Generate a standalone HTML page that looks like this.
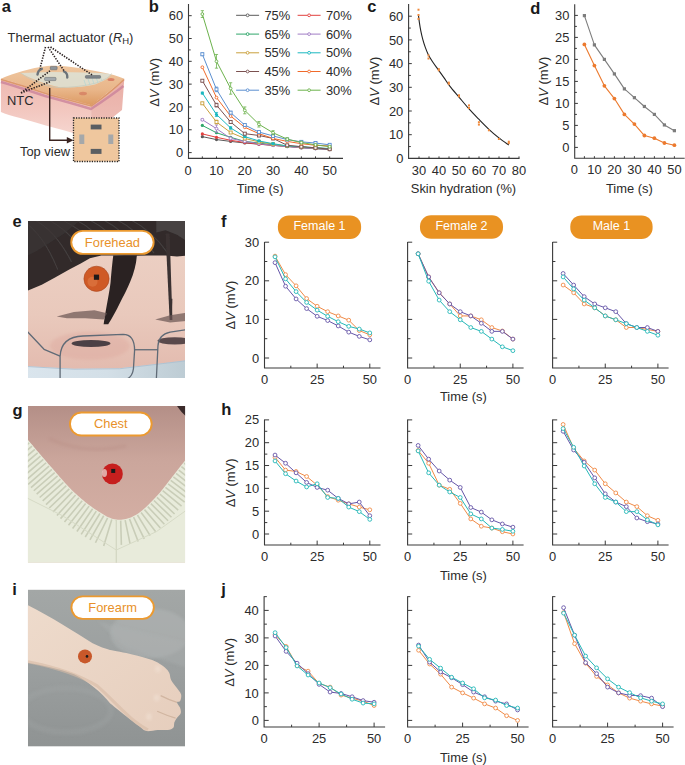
<!DOCTYPE html><html><head><meta charset="utf-8"><style>html,body{margin:0;padding:0;background:#fff;width:685px;height:765px;overflow:hidden}svg{display:block;font-family:"Liberation Sans",sans-serif}</style></head><body><svg width="685" height="765" viewBox="0 0 685 765" font-family="&quot;Liberation Sans&quot;, sans-serif">
<rect width="685" height="765" fill="#fff"/>
<defs><linearGradient id="topg" x1="0" y1="0" x2="0" y2="1"><stop offset="0" stop-color="#efc7a0"/><stop offset="0.6" stop-color="#e9b68a"/><stop offset="1" stop-color="#dc9a62"/></linearGradient><linearGradient id="frontg" x1="0" y1="0" x2="0" y2="1"><stop offset="0" stop-color="#eeb9b2"/><stop offset="0.5" stop-color="#f2c6be"/><stop offset="1" stop-color="#f6d8d2"/></linearGradient><linearGradient id="rightg" x1="0" y1="0" x2="0" y2="1"><stop offset="0" stop-color="#e9aea6"/><stop offset="1" stop-color="#efc2ba"/></linearGradient><filter id="bla" x="-10%" y="-10%" width="120%" height="120%"><feGaussianBlur stdDeviation="0.5"/></filter></defs>
<path d="M0.9 78.7 C12 81 22 84 30 86 C45 92 60 96 75 100 C83 102 88 104 91.1 105.3 L91.1 138 C70 132 40 124 20 118 C12 116 5 114 0.9 112 Z" fill="url(#frontg)"/>
<path d="M91.1 105.3 C100 99 110 91 124.3 78.7 L122 110 C112 118 100 128 91.1 138 Z" fill="url(#rightg)"/>
<path d="M0.9 78.7 C15 73 30 68 47 66 C60 65 75 67 90 70 C105 73 116 75 124.3 78.7 C110 91 100 99 91.1 105.3 C80 102 65 98 50 94 C35 89 15 82 0.9 78.7 Z" fill="url(#topg)"/>
<path d="M0.9 82 C15 86 30 91 45 96 C60 100 78 105 91.1 109 C100 103 112 95 123.5 86" fill="none" stroke="#c9809a" stroke-width="2.4" opacity="0.75" filter="url(#bla)"/>
<path d="M0.9 79.5 C15 83 35 90 50 95 C65 99 80 103 91.1 106 C100 100 112 91 124 79.5" fill="none" stroke="#d8915a" stroke-width="1.6" opacity="0.8" filter="url(#bla)"/>
<ellipse cx="83" cy="93.5" rx="4" ry="1.8" fill="#cf6a55" opacity="0.55" filter="url(#bla)"/>
<ellipse cx="111" cy="79.5" rx="3.5" ry="1.6" fill="#cf5a4a" opacity="0.6" filter="url(#bla)"/>
<path d="M20.5 73 C30 72.5 40 72.2 50 72 C65 72 80 72.3 95 72.8 C103 73.2 108 73.5 111 74.5 C109 78 103 81.5 95 84.4 C85 87 72 87.8 60 87.3 C47 85 33 79.5 20.5 73 Z" fill="#dde2d6" opacity="0.85"/>
<path d="M20.5 72.8 C32 81 45 86.5 58 87.5 C72 87.5 85 86 96 83 C104 80 110 77 111.5 73.5" fill="none" stroke="#c4cabd" stroke-width="0.7"/>
<path d="M84 80 L86 86 M88 79 L90 85 M92 78 L94 84 M96 77 L98 83 M100 76 L102 81" stroke="#b9d6d0" stroke-width="0.8"/>
<rect x="50.3" y="66.4" width="6.8" height="3.4" rx="0.8" fill="#8d949a" stroke="#5c6268" stroke-width="0.5"/>
<rect x="44.6" y="77.4" width="11.4" height="3.2" rx="0.8" fill="#a2a8ac" stroke="#5c6268" stroke-width="0.5"/>
<rect x="85.4" y="75.5" width="15.2" height="2.8" rx="0.8" fill="#7d8388" stroke="#5c6268" stroke-width="0.5"/>
<path d="M37.5 74.5 C38 71 39.5 69.5 41.8 68.8" stroke="#6c7379" stroke-width="2.4" fill="none" stroke-linecap="round"/>
<path d="M64 71.5 C66.5 72.5 67.5 74.5 67.3 77.5" stroke="#6c7379" stroke-width="2.4" fill="none" stroke-linecap="round"/>
<path d="M45.5 47 L40 68.5 M48 47 L64.5 71.5 M50.5 47 L93 75.5" stroke="#2a2020" stroke-width="1.6" stroke-dasharray="1.4 1.3" fill="none"/>
<path d="M21 93 L51 70 M21 93 L50.3 81.6" stroke="#2a2020" stroke-width="1.6" stroke-dasharray="1.4 1.3" fill="none"/>
<text x="7.6" y="42.2" font-size="12.9" fill="#2b2b2b">Thermal actuator (<tspan font-style="italic">R</tspan><tspan font-size="9.5" dy="2.2">H</tspan><tspan dy="-2.2">)</tspan></text>
<text x="7" y="105" font-size="12.9" text-anchor="start" font-weight="normal" fill="#2b2b2b" >NTC</text>
<text x="20" y="155.5" font-size="12.9" text-anchor="start" font-weight="normal" fill="#2b2b2b" >Top view</text>
<path d="M49.7 88 V140.3 H68" stroke="#3a2420" stroke-width="1.4" fill="none"/>
<path d="M73.5 140.3 L66.8 137 L66.8 143.6 Z" fill="#3a2420"/>
<rect x="73.5" y="118" width="45.5" height="43.5" fill="#efc79e" stroke="#222" stroke-width="1.3" stroke-dasharray="1.2 1.3"/>
<rect x="90.7" y="124.6" width="10.8" height="4.8" fill="#5a5e62"/>
<rect x="90.7" y="148.9" width="10.8" height="5" fill="#5a5e62"/>
<rect x="79.3" y="134.5" width="5" height="9.5" fill="#a5a8aa"/>
<rect x="108.3" y="134.5" width="5" height="9.5" fill="#a5a8aa"/>
<path d="M188.5 4V158.4H343" fill="none" stroke="#3a3a3a" stroke-width="1.1"/>
<path d="M188.5 152.6h3.2M188.5 141.19h2.2M188.5 129.78h3.2M188.5 118.37h2.2M188.5 106.96h3.2M188.5 95.55h2.2M188.5 84.14h3.2M188.5 72.73h2.2M188.5 61.32h3.2M188.5 49.91h2.2M188.5 38.5h3.2M188.5 27.09h2.2M188.5 15.68h3.2M202.34 158.4v-2M216.49 158.4v-2M230.63 158.4v-2M244.78 158.4v-2M258.93 158.4v-2M273.07 158.4v-2M287.21 158.4v-2M301.36 158.4v-2M315.5 158.4v-2M329.65 158.4v-2" stroke="#3a3a3a" stroke-width="1"/>
<text x="183.2" y="157.22" font-size="12.9" text-anchor="end" font-weight="normal" fill="#2b2b2b" >0</text>
<text x="183.2" y="134.4" font-size="12.9" text-anchor="end" font-weight="normal" fill="#2b2b2b" >10</text>
<text x="183.2" y="111.58" font-size="12.9" text-anchor="end" font-weight="normal" fill="#2b2b2b" >20</text>
<text x="183.2" y="88.76" font-size="12.9" text-anchor="end" font-weight="normal" fill="#2b2b2b" >30</text>
<text x="183.2" y="65.94" font-size="12.9" text-anchor="end" font-weight="normal" fill="#2b2b2b" >40</text>
<text x="183.2" y="43.12" font-size="12.9" text-anchor="end" font-weight="normal" fill="#2b2b2b" >50</text>
<text x="183.2" y="20.3" font-size="12.9" text-anchor="end" font-weight="normal" fill="#2b2b2b" >60</text>
<text x="188.2" y="174.6" font-size="12.9" text-anchor="middle" font-weight="normal" fill="#2b2b2b" >0</text>
<text x="216.49" y="174.6" font-size="12.9" text-anchor="middle" font-weight="normal" fill="#2b2b2b" >10</text>
<text x="244.78" y="174.6" font-size="12.9" text-anchor="middle" font-weight="normal" fill="#2b2b2b" >20</text>
<text x="273.07" y="174.6" font-size="12.9" text-anchor="middle" font-weight="normal" fill="#2b2b2b" >30</text>
<text x="301.36" y="174.6" font-size="12.9" text-anchor="middle" font-weight="normal" fill="#2b2b2b" >40</text>
<text x="329.65" y="174.6" font-size="12.9" text-anchor="middle" font-weight="normal" fill="#2b2b2b" >50</text>
<text transform="translate(158.6,82.3) rotate(-90)" x="0" y="0" font-size="12.9" text-anchor="middle" fill="#2b2b2b">&#916;<tspan font-style="italic">V</tspan> (mV)</text>
<text x="260.2" y="192.9" font-size="12.9" text-anchor="middle" font-weight="normal" fill="#2b2b2b" >Time (s)</text>
<polyline points="202.34,136.63 216.49,139.59 230.63,141.42 244.78,143.02 258.93,144.16 273.07,145.3 287.21,146.44 301.36,147.81 315.5,148.72 329.65,149.63" fill="none" stroke="#5a5a5a" stroke-width="1.0" stroke-linejoin="round"/>
<circle cx="202.34" cy="136.63" r="1.6" fill="#5a5a5a"/>
<circle cx="216.49" cy="139.59" r="1.6" fill="#5a5a5a"/>
<circle cx="230.63" cy="141.42" r="1.6" fill="#5a5a5a"/>
<circle cx="244.78" cy="143.02" r="1.6" fill="#5a5a5a"/>
<circle cx="258.93" cy="144.16" r="1.6" fill="#5a5a5a"/>
<circle cx="273.07" cy="145.3" r="1.6" fill="#5a5a5a"/>
<circle cx="287.21" cy="146.44" r="1.6" fill="#5a5a5a"/>
<circle cx="301.36" cy="147.81" r="1.6" fill="#5a5a5a"/>
<circle cx="315.5" cy="148.72" r="1.6" fill="#5a5a5a"/>
<circle cx="329.65" cy="149.63" r="1.6" fill="#5a5a5a"/>
<polyline points="202.34,133.89 216.49,137.31 230.63,140.28 244.78,142.56 258.93,144.16 273.07,145.3 287.21,146.44 301.36,147.12 315.5,148.04 329.65,148.72" fill="none" stroke="#e2413f" stroke-width="1.0" stroke-linejoin="round"/>
<circle cx="202.34" cy="133.89" r="1.6" fill="#e2413f"/>
<circle cx="216.49" cy="137.31" r="1.6" fill="#e2413f"/>
<circle cx="230.63" cy="140.28" r="1.6" fill="#e2413f"/>
<circle cx="244.78" cy="142.56" r="1.6" fill="#e2413f"/>
<circle cx="258.93" cy="144.16" r="1.6" fill="#e2413f"/>
<circle cx="273.07" cy="145.3" r="1.6" fill="#e2413f"/>
<circle cx="287.21" cy="146.44" r="1.6" fill="#e2413f"/>
<circle cx="301.36" cy="147.12" r="1.6" fill="#e2413f"/>
<circle cx="315.5" cy="148.04" r="1.6" fill="#e2413f"/>
<circle cx="329.65" cy="148.72" r="1.6" fill="#e2413f"/>
<polyline points="202.34,125.44 216.49,132.75 230.63,137.31 244.78,141.42 258.93,143.02 273.07,144.84 287.21,145.98 301.36,147.12 315.5,148.04 329.65,148.72" fill="none" stroke="#2fa66a" stroke-width="1.0" stroke-linejoin="round"/>
<circle cx="202.34" cy="125.44" r="1.6" fill="#2fa66a"/>
<circle cx="216.49" cy="132.75" r="1.6" fill="#2fa66a"/>
<circle cx="230.63" cy="137.31" r="1.6" fill="#2fa66a"/>
<circle cx="244.78" cy="141.42" r="1.6" fill="#2fa66a"/>
<circle cx="258.93" cy="143.02" r="1.6" fill="#2fa66a"/>
<circle cx="273.07" cy="144.84" r="1.6" fill="#2fa66a"/>
<circle cx="287.21" cy="145.98" r="1.6" fill="#2fa66a"/>
<circle cx="301.36" cy="147.12" r="1.6" fill="#2fa66a"/>
<circle cx="315.5" cy="148.04" r="1.6" fill="#2fa66a"/>
<circle cx="329.65" cy="148.72" r="1.6" fill="#2fa66a"/>
<polyline points="202.34,119.74 216.49,128.64 230.63,138.45 244.78,141.42 258.93,143.7 273.07,145.3 287.21,146.44 301.36,147.81 315.5,148.49 329.65,149.18" fill="none" stroke="#a07cc4" stroke-width="1.0" stroke-linejoin="round"/>
<path d="M202.34 118.83V120.65M200.75 118.83h3.2M200.75 120.65h3.2M216.49 124.99V132.29M214.89 124.99h3.2M214.89 132.29h3.2M230.63 137.08V139.82M229.03 137.08h3.2M229.03 139.82h3.2M244.78 140.73V142.1M243.18 140.73h3.2M243.18 142.1h3.2M258.93 143.02V144.38M257.32 143.02h3.2M257.32 144.38h3.2M273.07 144.61V145.98M271.47 144.61h3.2M271.47 145.98h3.2M287.21 145.75V147.12M285.61 145.75h3.2M285.61 147.12h3.2M301.36 147.12V148.49M299.76 147.12h3.2M299.76 148.49h3.2M315.5 147.81V149.18M313.9 147.81h3.2M313.9 149.18h3.2M329.65 148.49V149.86M328.05 148.49h3.2M328.05 149.86h3.2" stroke="#a07cc4" stroke-width="0.8" fill="none"/>
<circle cx="202.34" cy="119.74" r="1.4" fill="#fff" stroke="#a07cc4" stroke-width="0.9"/>
<circle cx="216.49" cy="128.64" r="1.4" fill="#fff" stroke="#a07cc4" stroke-width="0.9"/>
<circle cx="230.63" cy="138.45" r="1.4" fill="#fff" stroke="#a07cc4" stroke-width="0.9"/>
<circle cx="244.78" cy="141.42" r="1.4" fill="#fff" stroke="#a07cc4" stroke-width="0.9"/>
<circle cx="258.93" cy="143.7" r="1.4" fill="#fff" stroke="#a07cc4" stroke-width="0.9"/>
<circle cx="273.07" cy="145.3" r="1.4" fill="#fff" stroke="#a07cc4" stroke-width="0.9"/>
<circle cx="287.21" cy="146.44" r="1.4" fill="#fff" stroke="#a07cc4" stroke-width="0.9"/>
<circle cx="301.36" cy="147.81" r="1.4" fill="#fff" stroke="#a07cc4" stroke-width="0.9"/>
<circle cx="315.5" cy="148.49" r="1.4" fill="#fff" stroke="#a07cc4" stroke-width="0.9"/>
<circle cx="329.65" cy="149.18" r="1.4" fill="#fff" stroke="#a07cc4" stroke-width="0.9"/>
<polyline points="202.34,103.31 216.49,122.02 230.63,132.52 244.78,138.45 258.93,141.87 273.07,144.16 287.21,145.98 301.36,147.12 315.5,148.04 329.65,148.72" fill="none" stroke="#c9a03c" stroke-width="1.0" stroke-linejoin="round"/>
<path d="M202.34 102.4V104.22M200.75 102.4h3.2M200.75 104.22h3.2M216.49 120.2V123.85M214.89 120.2h3.2M214.89 123.85h3.2M230.63 131.61V133.43M229.03 131.61h3.2M229.03 133.43h3.2M244.78 137.77V139.14M243.18 137.77h3.2M243.18 139.14h3.2M258.93 141.19V142.56M257.32 141.19h3.2M257.32 142.56h3.2M273.07 143.47V144.84M271.47 143.47h3.2M271.47 144.84h3.2M287.21 145.3V146.67M285.61 145.3h3.2M285.61 146.67h3.2M301.36 146.44V147.81M299.76 146.44h3.2M299.76 147.81h3.2M315.5 147.35V148.72M313.9 147.35h3.2M313.9 148.72h3.2M329.65 148.04V149.41M328.05 148.04h3.2M328.05 149.41h3.2" stroke="#c9a03c" stroke-width="0.8" fill="none"/>
<rect x="200.84" y="101.81" width="3" height="3" fill="#fff" stroke="#c9a03c" stroke-width="0.9"/>
<rect x="214.99" y="120.52" width="3" height="3" fill="#fff" stroke="#c9a03c" stroke-width="0.9"/>
<rect x="229.13" y="131.02" width="3" height="3" fill="#fff" stroke="#c9a03c" stroke-width="0.9"/>
<rect x="243.28" y="136.95" width="3" height="3" fill="#fff" stroke="#c9a03c" stroke-width="0.9"/>
<rect x="257.43" y="140.37" width="3" height="3" fill="#fff" stroke="#c9a03c" stroke-width="0.9"/>
<rect x="271.57" y="142.66" width="3" height="3" fill="#fff" stroke="#c9a03c" stroke-width="0.9"/>
<rect x="285.71" y="144.48" width="3" height="3" fill="#fff" stroke="#c9a03c" stroke-width="0.9"/>
<rect x="299.86" y="145.62" width="3" height="3" fill="#fff" stroke="#c9a03c" stroke-width="0.9"/>
<rect x="314" y="146.54" width="3" height="3" fill="#fff" stroke="#c9a03c" stroke-width="0.9"/>
<rect x="328.15" y="147.22" width="3" height="3" fill="#fff" stroke="#c9a03c" stroke-width="0.9"/>
<polyline points="202.34,93.04 216.49,114.49 230.63,127.95 244.78,136.63 258.93,140.96 273.07,143.7 287.21,145.98 301.36,146.67 315.5,147.81 329.65,148.49" fill="none" stroke="#1bb8c0" stroke-width="1.0" stroke-linejoin="round"/>
<path d="M202.34 92.13V93.95M200.75 92.13h3.2M200.75 93.95h3.2M216.49 112.44V116.54M214.89 112.44h3.2M214.89 116.54h3.2M230.63 126.81V129.1M229.03 126.81h3.2M229.03 129.1h3.2M244.78 135.94V137.31M243.18 135.94h3.2M243.18 137.31h3.2M258.93 140.28V141.65M257.32 140.28h3.2M257.32 141.65h3.2M273.07 143.02V144.38M271.47 143.02h3.2M271.47 144.38h3.2M287.21 145.3V146.67M285.61 145.3h3.2M285.61 146.67h3.2M301.36 145.98V147.35M299.76 145.98h3.2M299.76 147.35h3.2M315.5 147.12V148.49M313.9 147.12h3.2M313.9 148.49h3.2M329.65 147.81V149.18M328.05 147.81h3.2M328.05 149.18h3.2" stroke="#1bb8c0" stroke-width="0.8" fill="none"/>
<circle cx="202.34" cy="93.04" r="1.6" fill="#1bb8c0"/>
<circle cx="216.49" cy="114.49" r="1.6" fill="#1bb8c0"/>
<circle cx="230.63" cy="127.95" r="1.6" fill="#1bb8c0"/>
<circle cx="244.78" cy="136.63" r="1.6" fill="#1bb8c0"/>
<circle cx="258.93" cy="140.96" r="1.6" fill="#1bb8c0"/>
<circle cx="273.07" cy="143.7" r="1.6" fill="#1bb8c0"/>
<circle cx="287.21" cy="145.98" r="1.6" fill="#1bb8c0"/>
<circle cx="301.36" cy="146.67" r="1.6" fill="#1bb8c0"/>
<circle cx="315.5" cy="147.81" r="1.6" fill="#1bb8c0"/>
<circle cx="329.65" cy="148.49" r="1.6" fill="#1bb8c0"/>
<polyline points="202.34,80.72 216.49,105.13 230.63,122.02 244.78,133.66 258.93,135.48 273.07,138.45 287.21,145.3 301.36,146.67 315.5,147.81 329.65,149.18" fill="none" stroke="#7b5150" stroke-width="1.0" stroke-linejoin="round"/>
<path d="M202.34 79.58V81.86M200.75 79.58h3.2M200.75 81.86h3.2M216.49 103.31V106.96M214.89 103.31h3.2M214.89 106.96h3.2M230.63 120.88V123.16M229.03 120.88h3.2M229.03 123.16h3.2M244.78 132.52V134.8M243.18 132.52h3.2M243.18 134.8h3.2M258.93 134.34V136.63M257.32 134.34h3.2M257.32 136.63h3.2M273.07 137.31V139.59M271.47 137.31h3.2M271.47 139.59h3.2M287.21 144.61V145.98M285.61 144.61h3.2M285.61 145.98h3.2M301.36 145.98V147.35M299.76 145.98h3.2M299.76 147.35h3.2M315.5 147.12V148.49M313.9 147.12h3.2M313.9 148.49h3.2M329.65 148.49V149.86M328.05 148.49h3.2M328.05 149.86h3.2" stroke="#7b5150" stroke-width="0.8" fill="none"/>
<rect x="200.84" y="79.22" width="3" height="3" fill="#fff" stroke="#7b5150" stroke-width="0.9"/>
<rect x="214.99" y="103.63" width="3" height="3" fill="#fff" stroke="#7b5150" stroke-width="0.9"/>
<rect x="229.13" y="120.52" width="3" height="3" fill="#fff" stroke="#7b5150" stroke-width="0.9"/>
<rect x="243.28" y="132.16" width="3" height="3" fill="#fff" stroke="#7b5150" stroke-width="0.9"/>
<rect x="257.43" y="133.98" width="3" height="3" fill="#fff" stroke="#7b5150" stroke-width="0.9"/>
<rect x="271.57" y="136.95" width="3" height="3" fill="#fff" stroke="#7b5150" stroke-width="0.9"/>
<rect x="285.71" y="143.8" width="3" height="3" fill="#fff" stroke="#7b5150" stroke-width="0.9"/>
<rect x="299.86" y="145.17" width="3" height="3" fill="#fff" stroke="#7b5150" stroke-width="0.9"/>
<rect x="314" y="146.31" width="3" height="3" fill="#fff" stroke="#7b5150" stroke-width="0.9"/>
<rect x="328.15" y="147.68" width="3" height="3" fill="#fff" stroke="#7b5150" stroke-width="0.9"/>
<polyline points="202.34,67.25 216.49,97.6 230.63,116.09 244.78,127.27 258.93,133.66 273.07,138.45 287.21,141.42 301.36,143.7 315.5,145.3 329.65,145.98" fill="none" stroke="#f06a2a" stroke-width="1.0" stroke-linejoin="round"/>
<circle cx="202.34" cy="67.25" r="1.4" fill="#fff" stroke="#f06a2a" stroke-width="0.9"/>
<circle cx="216.49" cy="97.6" r="1.4" fill="#fff" stroke="#f06a2a" stroke-width="0.9"/>
<circle cx="230.63" cy="116.09" r="1.4" fill="#fff" stroke="#f06a2a" stroke-width="0.9"/>
<circle cx="244.78" cy="127.27" r="1.4" fill="#fff" stroke="#f06a2a" stroke-width="0.9"/>
<circle cx="258.93" cy="133.66" r="1.4" fill="#fff" stroke="#f06a2a" stroke-width="0.9"/>
<circle cx="273.07" cy="138.45" r="1.4" fill="#fff" stroke="#f06a2a" stroke-width="0.9"/>
<circle cx="287.21" cy="141.42" r="1.4" fill="#fff" stroke="#f06a2a" stroke-width="0.9"/>
<circle cx="301.36" cy="143.7" r="1.4" fill="#fff" stroke="#f06a2a" stroke-width="0.9"/>
<circle cx="315.5" cy="145.3" r="1.4" fill="#fff" stroke="#f06a2a" stroke-width="0.9"/>
<circle cx="329.65" cy="145.98" r="1.4" fill="#fff" stroke="#f06a2a" stroke-width="0.9"/>
<polyline points="202.34,54.25 216.49,89.39 230.63,112.66 244.78,124.99 258.93,132.06 273.07,135.94 287.21,139.59 301.36,141.87 315.5,143.02 329.65,144.84" fill="none" stroke="#5b8fd0" stroke-width="1.0" stroke-linejoin="round"/>
<path d="M202.34 52.88V55.61M200.75 52.88h3.2M200.75 55.61h3.2M216.49 87.11V91.67M214.89 87.11h3.2M214.89 91.67h3.2M230.63 111.3V114.03M229.03 111.3h3.2M229.03 114.03h3.2M244.78 124.07V125.9M243.18 124.07h3.2M243.18 125.9h3.2M258.93 131.38V132.75M257.32 131.38h3.2M257.32 132.75h3.2M273.07 135.26V136.63M271.47 135.26h3.2M271.47 136.63h3.2M287.21 138.91V140.28M285.61 138.91h3.2M285.61 140.28h3.2M301.36 141.19V142.56M299.76 141.19h3.2M299.76 142.56h3.2M315.5 142.33V143.7M313.9 142.33h3.2M313.9 143.7h3.2M329.65 144.16V145.53M328.05 144.16h3.2M328.05 145.53h3.2" stroke="#5b8fd0" stroke-width="0.8" fill="none"/>
<rect x="200.84" y="52.75" width="3" height="3" fill="#fff" stroke="#5b8fd0" stroke-width="0.9"/>
<rect x="214.99" y="87.89" width="3" height="3" fill="#fff" stroke="#5b8fd0" stroke-width="0.9"/>
<rect x="229.13" y="111.16" width="3" height="3" fill="#fff" stroke="#5b8fd0" stroke-width="0.9"/>
<rect x="243.28" y="123.49" width="3" height="3" fill="#fff" stroke="#5b8fd0" stroke-width="0.9"/>
<rect x="257.43" y="130.56" width="3" height="3" fill="#fff" stroke="#5b8fd0" stroke-width="0.9"/>
<rect x="271.57" y="134.44" width="3" height="3" fill="#fff" stroke="#5b8fd0" stroke-width="0.9"/>
<rect x="285.71" y="138.09" width="3" height="3" fill="#fff" stroke="#5b8fd0" stroke-width="0.9"/>
<rect x="299.86" y="140.37" width="3" height="3" fill="#fff" stroke="#5b8fd0" stroke-width="0.9"/>
<rect x="314" y="141.52" width="3" height="3" fill="#fff" stroke="#5b8fd0" stroke-width="0.9"/>
<rect x="328.15" y="143.34" width="3" height="3" fill="#fff" stroke="#5b8fd0" stroke-width="0.9"/>
<polyline points="202.34,14.08 216.49,61.32 230.63,88.48 244.78,110.38 258.93,124.3 273.07,132.75 287.21,139.14 301.36,142.56 315.5,144.84 329.65,146.67" fill="none" stroke="#6cb24c" stroke-width="1.0" stroke-linejoin="round"/>
<path d="M202.34 10.66V17.51M200.75 10.66h3.2M200.75 17.51h3.2M216.49 54.47V68.17M214.89 54.47h3.2M214.89 68.17h3.2M230.63 82.77V94.18M229.03 82.77h3.2M229.03 94.18h3.2M244.78 106.96V113.81M243.18 106.96h3.2M243.18 113.81h3.2M258.93 121.56V127.04M257.32 121.56h3.2M257.32 127.04h3.2M273.07 130.69V134.8M271.47 130.69h3.2M271.47 134.8h3.2M287.21 137.77V140.51M285.61 137.77h3.2M285.61 140.51h3.2M301.36 141.42V143.7M299.76 141.42h3.2M299.76 143.7h3.2M315.5 143.93V145.75M313.9 143.93h3.2M313.9 145.75h3.2M329.65 145.75V147.58M328.05 145.75h3.2M328.05 147.58h3.2" stroke="#6cb24c" stroke-width="0.8" fill="none"/>
<circle cx="202.34" cy="14.08" r="1.4" fill="#fff" stroke="#6cb24c" stroke-width="0.9"/>
<circle cx="216.49" cy="61.32" r="1.4" fill="#fff" stroke="#6cb24c" stroke-width="0.9"/>
<circle cx="230.63" cy="88.48" r="1.4" fill="#fff" stroke="#6cb24c" stroke-width="0.9"/>
<circle cx="244.78" cy="110.38" r="1.4" fill="#fff" stroke="#6cb24c" stroke-width="0.9"/>
<circle cx="258.93" cy="124.3" r="1.4" fill="#fff" stroke="#6cb24c" stroke-width="0.9"/>
<circle cx="273.07" cy="132.75" r="1.4" fill="#fff" stroke="#6cb24c" stroke-width="0.9"/>
<circle cx="287.21" cy="139.14" r="1.4" fill="#fff" stroke="#6cb24c" stroke-width="0.9"/>
<circle cx="301.36" cy="142.56" r="1.4" fill="#fff" stroke="#6cb24c" stroke-width="0.9"/>
<circle cx="315.5" cy="144.84" r="1.4" fill="#fff" stroke="#6cb24c" stroke-width="0.9"/>
<circle cx="329.65" cy="146.67" r="1.4" fill="#fff" stroke="#6cb24c" stroke-width="0.9"/>
<path d="M236.1 15.3H259.1" stroke="#5a5a5a" stroke-width="1"/>
<circle cx="247.6" cy="15.3" r="1.4" fill="#fff" stroke="#5a5a5a" stroke-width="0.9"/>
<text x="264.4" y="19.92" font-size="12.9" text-anchor="start" font-weight="normal" fill="#2b2b2b" >75%</text>
<path d="M297.6 15.3H320.6" stroke="#e2413f" stroke-width="1"/>
<circle cx="309.1" cy="15.3" r="1.4" fill="#fff" stroke="#e2413f" stroke-width="0.9"/>
<text x="325.9" y="19.92" font-size="12.9" text-anchor="start" font-weight="normal" fill="#2b2b2b" >70%</text>
<path d="M236.1 34.1H259.1" stroke="#2fa66a" stroke-width="1"/>
<circle cx="247.6" cy="34.1" r="1.4" fill="#fff" stroke="#2fa66a" stroke-width="0.9"/>
<text x="264.4" y="38.72" font-size="12.9" text-anchor="start" font-weight="normal" fill="#2b2b2b" >65%</text>
<path d="M297.6 34.1H320.6" stroke="#a07cc4" stroke-width="1"/>
<circle cx="309.1" cy="34.1" r="1.4" fill="#fff" stroke="#a07cc4" stroke-width="0.9"/>
<text x="325.9" y="38.72" font-size="12.9" text-anchor="start" font-weight="normal" fill="#2b2b2b" >60%</text>
<path d="M236.1 52.8H259.1" stroke="#c9a03c" stroke-width="1"/>
<circle cx="247.6" cy="52.8" r="1.4" fill="#fff" stroke="#c9a03c" stroke-width="0.9"/>
<text x="264.4" y="57.42" font-size="12.9" text-anchor="start" font-weight="normal" fill="#2b2b2b" >55%</text>
<path d="M297.6 52.8H320.6" stroke="#1bb8c0" stroke-width="1"/>
<circle cx="309.1" cy="52.8" r="1.4" fill="#fff" stroke="#1bb8c0" stroke-width="0.9"/>
<text x="325.9" y="57.42" font-size="12.9" text-anchor="start" font-weight="normal" fill="#2b2b2b" >50%</text>
<path d="M236.1 71.5H259.1" stroke="#7b5150" stroke-width="1"/>
<circle cx="247.6" cy="71.5" r="1.4" fill="#fff" stroke="#7b5150" stroke-width="0.9"/>
<text x="264.4" y="76.12" font-size="12.9" text-anchor="start" font-weight="normal" fill="#2b2b2b" >45%</text>
<path d="M297.6 71.5H320.6" stroke="#f06a2a" stroke-width="1"/>
<circle cx="309.1" cy="71.5" r="1.4" fill="#fff" stroke="#f06a2a" stroke-width="0.9"/>
<text x="325.9" y="76.12" font-size="12.9" text-anchor="start" font-weight="normal" fill="#2b2b2b" >40%</text>
<path d="M236.1 90.2H259.1" stroke="#5b8fd0" stroke-width="1"/>
<circle cx="247.6" cy="90.2" r="1.4" fill="#fff" stroke="#5b8fd0" stroke-width="0.9"/>
<text x="264.4" y="94.82" font-size="12.9" text-anchor="start" font-weight="normal" fill="#2b2b2b" >35%</text>
<path d="M297.6 90.2H320.6" stroke="#6cb24c" stroke-width="1"/>
<circle cx="309.1" cy="90.2" r="1.4" fill="#fff" stroke="#6cb24c" stroke-width="0.9"/>
<text x="325.9" y="94.82" font-size="12.9" text-anchor="start" font-weight="normal" fill="#2b2b2b" >30%</text>
<path d="M408.6 4V158.4H519.5" fill="none" stroke="#3a3a3a" stroke-width="1.1"/>
<path d="M408.6 146.55h2.2M408.6 134.7h3.2M408.6 122.85h2.2M408.6 111h3.2M408.6 99.15h2.2M408.6 87.3h3.2M408.6 75.45h2.2M408.6 63.6h3.2M408.6 51.75h2.2M408.6 39.9h3.2M408.6 28.05h2.2M408.6 16.2h3.2M419 158.4v-2M429 158.4v-2M439 158.4v-2M449 158.4v-2M459 158.4v-2M469 158.4v-2M479 158.4v-2M489 158.4v-2M499 158.4v-2M509 158.4v-2M519 158.4v-2" stroke="#3a3a3a" stroke-width="1"/>
<text x="403.3" y="163.02" font-size="12.9" text-anchor="end" font-weight="normal" fill="#2b2b2b" >0</text>
<text x="403.3" y="139.32" font-size="12.9" text-anchor="end" font-weight="normal" fill="#2b2b2b" >10</text>
<text x="403.3" y="115.62" font-size="12.9" text-anchor="end" font-weight="normal" fill="#2b2b2b" >20</text>
<text x="403.3" y="91.92" font-size="12.9" text-anchor="end" font-weight="normal" fill="#2b2b2b" >30</text>
<text x="403.3" y="68.22" font-size="12.9" text-anchor="end" font-weight="normal" fill="#2b2b2b" >40</text>
<text x="403.3" y="44.52" font-size="12.9" text-anchor="end" font-weight="normal" fill="#2b2b2b" >50</text>
<text x="403.3" y="20.82" font-size="12.9" text-anchor="end" font-weight="normal" fill="#2b2b2b" >60</text>
<text x="419" y="174.6" font-size="12.9" text-anchor="middle" font-weight="normal" fill="#2b2b2b" >30</text>
<text x="439" y="174.6" font-size="12.9" text-anchor="middle" font-weight="normal" fill="#2b2b2b" >40</text>
<text x="459" y="174.6" font-size="12.9" text-anchor="middle" font-weight="normal" fill="#2b2b2b" >50</text>
<text x="479" y="174.6" font-size="12.9" text-anchor="middle" font-weight="normal" fill="#2b2b2b" >60</text>
<text x="499" y="174.6" font-size="12.9" text-anchor="middle" font-weight="normal" fill="#2b2b2b" >70</text>
<text x="519" y="174.6" font-size="12.9" text-anchor="middle" font-weight="normal" fill="#2b2b2b" >80</text>
<text transform="translate(378.6,81) rotate(-90)" x="0" y="0" font-size="12.9" text-anchor="middle" fill="#2b2b2b">&#916;<tspan font-style="italic">V</tspan> (mV)</text>
<text x="463.5" y="192.9" font-size="12.9" text-anchor="middle" font-weight="normal" fill="#2b2b2b" >Skin hydration (%)</text>
<path d="M418.5 15.6C418.65 16.77 419.02 20.05 419.4 22.6C419.78 25.15 420.25 28.15 420.8 30.9C421.35 33.65 421.95 36.35 422.7 39.1C423.45 41.85 424.38 44.85 425.3 47.4C426.22 49.95 427.02 52.05 428.2 54.4C429.38 56.75 430.73 58.95 432.4 61.5C434.07 64.05 436.25 66.97 438.2 69.7C440.15 72.43 442.13 75.12 444.1 77.9C446.07 80.68 447.52 83.2 450 86.4C452.48 89.6 455.83 93.35 459 97.1C462.17 100.85 465.75 105.27 469 108.9C472.25 112.53 475.18 115.5 478.5 118.9C481.82 122.3 485.5 126.13 488.9 129.3C492.3 132.47 495.58 135.28 498.9 137.9C502.22 140.52 507.15 143.82 508.8 145" fill="none" stroke="#222" stroke-width="1.1"/>
<rect x="417.5" y="8.7" width="2" height="2" fill="#f08a3c"/>
<rect x="417.5" y="14" width="2" height="2" fill="#f08a3c"/>
<rect x="417.5" y="17.9" width="2" height="2" fill="#f08a3c"/>
<rect x="427.5" y="54.4" width="2" height="2" fill="#f08a3c"/>
<rect x="427.5" y="57.5" width="2" height="2" fill="#f08a3c"/>
<rect x="437.8" y="68.1" width="2" height="2" fill="#f08a3c"/>
<rect x="437.8" y="69.3" width="2" height="2" fill="#f08a3c"/>
<rect x="447.8" y="81.6" width="2" height="2" fill="#f08a3c"/>
<rect x="447.8" y="82.8" width="2" height="2" fill="#f08a3c"/>
<rect x="458" y="94.3" width="2" height="2" fill="#f08a3c"/>
<rect x="458" y="95.3" width="2" height="2" fill="#f08a3c"/>
<rect x="468" y="104.4" width="2" height="2" fill="#f08a3c"/>
<rect x="468" y="107" width="2" height="2" fill="#f08a3c"/>
<rect x="477.9" y="121.2" width="2" height="2" fill="#f08a3c"/>
<rect x="477.9" y="123.6" width="2" height="2" fill="#f08a3c"/>
<rect x="487.9" y="129.3" width="2" height="2" fill="#f08a3c"/>
<rect x="497.9" y="138" width="2" height="2" fill="#f08a3c"/>
<rect x="507.8" y="140.7" width="2" height="2" fill="#f08a3c"/>
<rect x="507.8" y="142.1" width="2" height="2" fill="#f08a3c"/>
<path d="M574.7 4.3V158.2H684.7" fill="none" stroke="#3a3a3a" stroke-width="1.1"/>
<path d="M574.7 147.4h3.2M574.7 136.4h2.2M574.7 125.4h3.2M574.7 114.4h2.2M574.7 103.4h3.2M574.7 92.4h2.2M574.7 81.4h3.2M574.7 70.4h2.2M574.7 59.4h3.2M574.7 48.4h2.2M574.7 37.4h3.2M574.7 26.4h2.2M574.7 15.4h3.2M584.4 158.2v-2M594.4 158.2v-2M604.4 158.2v-2M614.4 158.2v-2M624.4 158.2v-2M634.4 158.2v-2M644.4 158.2v-2M654.4 158.2v-2M664.4 158.2v-2M674.4 158.2v-2" stroke="#3a3a3a" stroke-width="1"/>
<text x="569.4" y="152.02" font-size="12.9" text-anchor="end" font-weight="normal" fill="#2b2b2b" >0</text>
<text x="569.4" y="130.02" font-size="12.9" text-anchor="end" font-weight="normal" fill="#2b2b2b" >5</text>
<text x="569.4" y="108.02" font-size="12.9" text-anchor="end" font-weight="normal" fill="#2b2b2b" >10</text>
<text x="569.4" y="86.02" font-size="12.9" text-anchor="end" font-weight="normal" fill="#2b2b2b" >15</text>
<text x="569.4" y="64.02" font-size="12.9" text-anchor="end" font-weight="normal" fill="#2b2b2b" >20</text>
<text x="569.4" y="42.02" font-size="12.9" text-anchor="end" font-weight="normal" fill="#2b2b2b" >25</text>
<text x="569.4" y="20.02" font-size="12.9" text-anchor="end" font-weight="normal" fill="#2b2b2b" >30</text>
<text x="574.4" y="174.4" font-size="12.9" text-anchor="middle" font-weight="normal" fill="#2b2b2b" >0</text>
<text x="594.4" y="174.4" font-size="12.9" text-anchor="middle" font-weight="normal" fill="#2b2b2b" >10</text>
<text x="614.4" y="174.4" font-size="12.9" text-anchor="middle" font-weight="normal" fill="#2b2b2b" >20</text>
<text x="634.4" y="174.4" font-size="12.9" text-anchor="middle" font-weight="normal" fill="#2b2b2b" >30</text>
<text x="654.4" y="174.4" font-size="12.9" text-anchor="middle" font-weight="normal" fill="#2b2b2b" >40</text>
<text x="674.4" y="174.4" font-size="12.9" text-anchor="middle" font-weight="normal" fill="#2b2b2b" >50</text>
<text transform="translate(547.8,81) rotate(-90)" x="0" y="0" font-size="12.9" text-anchor="middle" fill="#2b2b2b">&#916;<tspan font-style="italic">V</tspan> (mV)</text>
<text x="629.3" y="192.9" font-size="12.9" text-anchor="middle" font-weight="normal" fill="#2b2b2b" >Time (s)</text>
<polyline points="584.4,15.62 594.4,44.88 604.4,59.4 614.4,73.92 624.4,88.88 634.4,97.68 644.4,106.48 654.4,114.4 664.4,124.96 674.4,130.68" fill="none" stroke="#7d7d7d" stroke-width="1.1" stroke-linejoin="round"/>
<rect x="582.8" y="14.02" width="3.2" height="3.2" fill="#7d7d7d"/>
<rect x="592.8" y="43.28" width="3.2" height="3.2" fill="#7d7d7d"/>
<rect x="602.8" y="57.8" width="3.2" height="3.2" fill="#7d7d7d"/>
<rect x="612.8" y="72.32" width="3.2" height="3.2" fill="#7d7d7d"/>
<rect x="622.8" y="87.28" width="3.2" height="3.2" fill="#7d7d7d"/>
<rect x="632.8" y="96.08" width="3.2" height="3.2" fill="#7d7d7d"/>
<rect x="642.8" y="104.88" width="3.2" height="3.2" fill="#7d7d7d"/>
<rect x="652.8" y="112.8" width="3.2" height="3.2" fill="#7d7d7d"/>
<rect x="662.8" y="123.36" width="3.2" height="3.2" fill="#7d7d7d"/>
<rect x="672.8" y="129.08" width="3.2" height="3.2" fill="#7d7d7d"/>
<polyline points="584.4,44.44 594.4,65.56 604.4,85.8 614.4,98.56 624.4,114.4 634.4,124.08 644.4,135.52 654.4,138.16 664.4,143 674.4,145.2" fill="none" stroke="#ec7a2e" stroke-width="1.1" stroke-linejoin="round"/>
<circle cx="584.4" cy="44.44" r="1.9" fill="#ec7a2e"/>
<circle cx="594.4" cy="65.56" r="1.9" fill="#ec7a2e"/>
<circle cx="604.4" cy="85.8" r="1.9" fill="#ec7a2e"/>
<circle cx="614.4" cy="98.56" r="1.9" fill="#ec7a2e"/>
<circle cx="624.4" cy="114.4" r="1.9" fill="#ec7a2e"/>
<circle cx="634.4" cy="124.08" r="1.9" fill="#ec7a2e"/>
<circle cx="644.4" cy="135.52" r="1.9" fill="#ec7a2e"/>
<circle cx="654.4" cy="138.16" r="1.9" fill="#ec7a2e"/>
<circle cx="664.4" cy="143" r="1.9" fill="#ec7a2e"/>
<circle cx="674.4" cy="145.2" r="1.9" fill="#ec7a2e"/>
<defs><linearGradient id="skine" x1="0" y1="0" x2="0" y2="1"><stop offset="0" stop-color="#edd2c6"/><stop offset="0.6" stop-color="#e9c9bc"/><stop offset="1" stop-color="#e2b9ad"/></linearGradient><filter id="bl1" x="-20%" y="-20%" width="140%" height="140%"><feGaussianBlur stdDeviation="0.7"/></filter><filter id="bl2" x="-20%" y="-20%" width="140%" height="140%"><feGaussianBlur stdDeviation="1.5"/></filter></defs>
<clipPath id="ce"><rect x="27.9" y="221.0" width="157.2" height="156.9"/></clipPath>
<g clip-path="url(#ce)">
<rect x="27.9" y="221.0" width="157.2" height="156.9" fill="url(#skine)"/>
<g filter="url(#bl1)">
<polygon points="23.42,216.42 190.73,216.42 190.73,255.38 176.98,256.53 165.52,255.38 156.35,255.38 148.33,255.38 135.72,255.84 124.26,255.84 112.8,255.38 101.34,255.38 89.88,258.13 80.72,263.4 69.26,269.59 55.5,277.15 41.75,284.72 23.42,292.51" fill="#302a2a"/>
<path d="M18.83 218.71Q41.75 230.17 57.8 269.59M32.58 218.71Q55.5 230.17 71.55 262.03M46.34 218.71Q69.26 230.17 85.3 254.46M60.09 218.71Q83.01 230.17 99.05 246.9M73.84 218.71Q96.76 230.17 112.8 253.09M87.59 218.71Q110.51 230.17 126.56 253.09M101.34 218.71Q124.26 230.17 140.31 253.09M115.1 218.71Q138.02 230.17 154.06 253.09M128.85 218.71Q151.77 230.17 167.81 253.09" stroke="#4f4848" stroke-width="1.1" fill="none" opacity="0.7"/>
<polygon points="23.42,216.42 85.3,216.42 62.38,234.75 37.17,250.8 23.42,257.67" fill="#3a3434" opacity="0.7"/>
<path d="M113.26 255.38L136.87 255.38C135.72 273.72 126.56 289.76 119.68 303.51C116.24 310.39 112.8 317.26 108.22 324.14L103.64 324.14C105.93 308.1 108.68 296.64 110.51 282.88C111.43 271.42 112.35 262.26 113.26 255.38Z" fill="#2a2424"/>
<polygon points="156.35,216.42 190.73,216.42 190.73,243.92 176.98,234.75 165.52,230.17 156.35,232.46" fill="#4c4848" opacity="0.8"/>
<polygon points="165.52,233.61 169.65,233.61 172.4,320.01 169.65,320.01" fill="#3a3232"/>
<polygon points="169.65,298.85 172.4,298.85 171.94,317.19 170.1,317.19" fill="#3a3232"/>
<polygon points="56.65,316.5 73.84,311.92 94.47,310.31 107.07,313.29 103.64,319.48 85.3,318.34 66.96,318.34" fill="#6a5452" opacity="0.7"/>
<polygon points="155.21,319.48 170.1,315.13 186.15,312.84 186.15,321.09 170.1,322.46" fill="#6a5452" opacity="0.7"/>
</g>
<ellipse cx="89.88" cy="345.84" rx="40" ry="14" fill="#dca49a" opacity="0.35" filter="url(#bl2)"/>
<ellipse cx="91.03" cy="343.55" rx="19.48" ry="3.44" fill="#4c4044" filter="url(#bl1)"/>
<ellipse cx="174.69" cy="340.8" rx="17.19" ry="3.67" fill="#5a4a4c" filter="url(#bl1)"/>
<defs><linearGradient id="maskg" x1="0" y1="0" x2="1" y2="0"><stop offset="0" stop-color="#dae5ed"/><stop offset="0.5" stop-color="#d3dfe7"/><stop offset="1" stop-color="#bccbd3"/></linearGradient></defs>
<polygon points="25.71,366.01 73.84,368.76 119.68,368.3 154.06,364.18 188.44,360.05 188.44,382.51 25.71,382.51" fill="url(#maskg)"/>
<polyline points="25.71,366.47 73.84,369.22 119.68,368.76 154.06,364.63 188.44,360.51" stroke="#a9bfd0" stroke-width="0.8" fill="none"/>
<path d="M60.09 379.07L60.09 356.15Q61.23 336.67 83.01 335.98L123.12 334.38Q134.58 334.38 134.58 350.42L133.43 368.76Q132.29 377.01 126.56 379.07" fill="none" stroke="#5f6a76" stroke-width="1.3" stroke-linejoin="round"/>
<path d="M188.44 329.34L170.1 332.09Q158.64 334.38 157.96 345.84L156.35 379.07" fill="none" stroke="#5f6a76" stroke-width="1.3" stroke-linejoin="round"/>
<path d="M134.58 349.74L157.96 349.74" fill="none" stroke="#5f6a76" stroke-width="1.3" stroke-linejoin="round"/>
<path d="M25.71 329.8L44.04 349.28L60.09 356.15" fill="none" stroke="#5f6a76" stroke-width="1.3" stroke-linejoin="round"/>
<circle cx="96.5" cy="278.8" r="12.6" fill="#cf5a26" stroke="#a8441e" stroke-width="0.6"/>
<circle cx="92.5" cy="281.8" r="5" fill="#e28048" opacity="0.55" filter="url(#bl1)"/>
<rect x="93.9" y="274.6" width="5.2" height="5.2" fill="#1e1a1a"/>
</g>
<rect x="71.25" y="230.85" width="82.4" height="23" rx="11.5" fill="#fff" stroke="#ec9a30" stroke-width="1.9"/>
<text x="112.45" y="246.57" font-size="12.9" text-anchor="middle" font-weight="normal" fill="#e8912a" >Forehead</text>
<defs><linearGradient id="neck" x1="0" y1="0" x2="0" y2="1"><stop offset="0" stop-color="#b48f87"/><stop offset="0.35" stop-color="#cba69c"/><stop offset="1" stop-color="#dab4a8"/></linearGradient></defs>
<clipPath id="cg"><rect x="27.9" y="405.9" width="157.2" height="156.8"/></clipPath>
<g clip-path="url(#cg)">
<rect x="27.9" y="405.9" width="157.2" height="156.8" fill="url(#neck)"/>
<polygon points="174.33,402.41 188.78,402.41 188.78,419.27 181.55,412.04" fill="#3a2c2c" filter="url(#bl1)"/>
<path d="M49.08 438.54Q85.21 455.39 126.16 445.76" stroke="#b88d84" stroke-width="3" fill="none" opacity="0.4" filter="url(#bl2)"/>
<polygon points="25.71,437.25 26.93,438.69 28.48,440.52 30.29,442.66 32.33,445.08 34.54,447.69 36.88,450.46 39.3,453.31 41.75,456.19 44.19,459.04 46.56,461.8 48.82,464.41 50.92,466.82 52.91,469.09 54.87,471.35 56.81,473.59 58.73,475.8 60.63,477.98 62.52,480.12 64.41,482.23 66.28,484.3 68.16,486.31 70.05,488.27 71.94,490.18 73.84,492.03 75.76,493.83 77.7,495.59 79.65,497.31 81.61,498.99 83.56,500.62 85.51,502.2 87.45,503.72 89.37,505.19 91.27,506.59 93.14,507.92 94.97,509.18 96.76,510.36 98.5,511.49 100.21,512.58 101.87,513.62 103.51,514.61 105.12,515.53 106.72,516.38 108.3,517.15 109.88,517.83 111.45,518.42 113.03,518.91 114.63,519.28 116.24,519.53 117.86,519.68 119.48,519.72 121.09,519.68 122.69,519.53 124.3,519.29 125.91,518.96 127.53,518.53 129.15,518 130.77,517.38 132.41,516.67 134.06,515.86 135.72,514.95 137.41,513.92 139.12,512.74 140.85,511.44 142.6,510.02 144.35,508.52 146.11,506.93 147.86,505.27 149.6,503.57 151.33,501.84 153.03,500.09 154.71,498.34 156.35,496.61 157.97,494.85 159.59,493 161.2,491.08 162.8,489.12 164.39,487.12 165.95,485.11 167.49,483.1 169,481.11 170.48,479.16 171.92,477.26 173.33,475.43 174.69,473.69 176.04,471.98 177.4,470.24 178.77,468.5 180.12,466.77 181.44,465.07 182.71,463.44 183.92,461.88 185.04,460.42 186.08,459.09 187,457.9 187.79,456.88 188.44,456.04 188.44,568.35 25.71,568.35" fill="#e8ebdb"/>
<path d="M26.42 439.5L5.25 457.42M29.23 442.83L8.04 460.72M32.04 446.15L10.86 464.06M34.85 449.48L13.69 467.4M37.67 452.8L16.52 470.74M40.49 456.12L19.37 474.1M43.32 459.43L22.24 477.45M46.16 462.74L25.19 480.89M49.02 466.03L28.13 484.28M51.88 469.31L31.01 487.57M54.74 472.6L33.78 490.76M57.59 475.89L36.65 494.06M60.46 479.17L39.65 497.5M63.36 482.43L42.68 500.91M66.31 485.66L46.02 504.57M69.31 488.83L49.29 508.03M72.42 491.93L53.11 511.83M75.61 494.93L56.96 515.46M78.87 497.84L60.51 518.63M82.21 500.68L64.45 521.99M85.61 503.44L68.48 525.25M89.08 506.11L72.62 528.43M92.63 508.68L76.91 531.53M96.27 511.14L81.2 534.42M99.94 513.5L85.25 537.02M103.7 515.77L89.93 539.85M107.6 517.83L95.46 542.77M111.78 519.48L103.67 546M116.22 520.45L116.24 520.15M120.67 520.61L121.39 544.89M125.15 520.05L130.09 543.84M129.48 518.86L138.14 541.56M133.56 517.12L144.29 538.92M137.44 514.97L150.13 535.69M141.08 512.42L155.68 531.83M144.49 509.61L160.33 528.03M147.74 506.65L164.41 524.32M150.88 503.59L168.09 520.74M153.94 500.47L171.48 517.29M156.95 497.32L174.58 514.03M159.89 494.05L178.17 510.06M162.7 490.69L181.55 506.03M165.43 487.27L184.61 502.18M168.09 483.82L187.38 498.6M170.73 480.35L190.09 495.02M173.37 476.89L192.63 491.69M176.04 473.46L195.11 488.51M178.73 470.03L197.86 485.01M181.41 466.6L200.58 481.52M184.08 463.16L203.28 478.05M186.75 459.72L205.96 474.59" stroke="#c9cdb8" stroke-width="1.6" fill="none"/>
<path d="M116.24 520.22L116.24 563.77" stroke="#cdd1bc" stroke-width="1" fill="none"/>
<path d="M25.71 497.3L62.38 515.64L116.24 550.02" stroke="#d6dac6" stroke-width="1" fill="none"/>
<path d="M116.24 550.02L156.35 531.68L188.44 508.76" stroke="#d6dac6" stroke-width="1" fill="none"/>
<circle cx="112.43" cy="473.94" r="10.4" fill="#c61f1e"/>
<ellipse cx="104.43" cy="472.94" rx="2.6" ry="4" fill="#e8d6d0" opacity="0.75"/>
<rect x="111.23" y="468.94" width="4" height="4" fill="#1a1a1a"/>
</g>
<rect x="69.95" y="412.45" width="81.7" height="23" rx="11.5" fill="#fff" stroke="#ec9a30" stroke-width="1.9"/>
<text x="110.8" y="428.17" font-size="12.9" text-anchor="middle" font-weight="normal" fill="#e8912a" >Chest</text>
<defs><linearGradient id="bgi" x1="0" y1="0" x2="0" y2="1"><stop offset="0" stop-color="#a3a7a6"/><stop offset="0.5" stop-color="#9b9f9f"/><stop offset="1" stop-color="#8f9393"/></linearGradient><linearGradient id="armg" x1="0" y1="0" x2="1" y2="1"><stop offset="0" stop-color="#eedbcc"/><stop offset="1" stop-color="#e6cebd"/></linearGradient></defs>
<clipPath id="ci"><rect x="27.9" y="589.6" width="157.2" height="157"/></clipPath>
<g clip-path="url(#ci)">
<rect x="27.9" y="589.6" width="157.2" height="157" fill="url(#bgi)"/>
<ellipse cx="65.94" cy="710.24" rx="45" ry="22" fill="none" stroke="#a6aaaa" stroke-width="6" opacity="0.25" filter="url(#bl2)"/>
<ellipse cx="150.24" cy="633.17" rx="40" ry="25" fill="#b8bcbc" opacity="0.4" filter="url(#bl2)"/>
<polygon points="97.2,621.3 186.02,642.06 186.02,667.43 157.18,658.2 124.89,646.67" fill="#aeb2b2" opacity="0.35" filter="url(#bl2)"/>
<path d="M23.39 603.3L28 605.15C51.07 616.68 74.14 631.68 92.59 643.21C99.51 646.67 105.28 648.52 110.01 649.99L110.01 649.99C113.71 650.73 125.17 652.73 132.2 654.4C139.23 656.07 147.18 658.13 152.2 660C157.22 661.87 159.52 663.58 162.3 665.61C165.09 667.64 167.43 669.81 168.9 672.21C170.36 674.61 169.79 677.4 171.09 680C172.39 682.6 175.03 685.4 176.7 687.8C178.37 690.2 180.54 692.21 181.1 694.42C181.67 696.64 180.77 699.76 180.09 701.09C179.41 702.41 177.02 701.26 177.02 702.38C177.02 703.5 179.47 705.98 180.09 707.8C180.7 709.62 181.22 711.62 180.71 713.29C180.2 714.96 178.07 716.33 177.02 717.81C175.97 719.3 175.01 720.53 174.39 722.19C173.77 723.86 174.41 726.5 173.31 727.8C172.21 729.1 170.38 729.63 167.79 729.99C165.21 730.36 161.32 729.81 157.8 729.99C154.29 730.18 149.49 731.46 146.71 731.1C143.92 730.73 143.52 729.47 141.1 727.8C138.68 726.13 135.53 723.69 132.2 721.09C128.87 718.48 124.8 715.15 121.1 712.18C117.4 709.22 111.86 704.76 110.01 703.28C101.82 692.81 87.98 681.27 74.14 674.35C57.99 668.58 41.84 665.12 28 662.82L23.39 662.36Z" fill="url(#armg)"/>
<ellipse cx="157.8" cy="668.93" rx="2.8" ry="3.4" fill="#f3e4d8" opacity="0.5" filter="url(#bl2)"/>
<ellipse cx="156.7" cy="697.84" rx="2.8" ry="3.4" fill="#f3e4d8" opacity="0.5" filter="url(#bl2)"/>
<ellipse cx="148.9" cy="716.75" rx="2.8" ry="3.4" fill="#f3e4d8" opacity="0.5" filter="url(#bl2)"/>
<path d="M28 661.66C51.07 666.28 78.75 674.35 97.2 685.89C115.66 702.03 129.5 720.49 147.95 729.72" stroke="#d7bba6" stroke-width="3" fill="none" opacity="0.6" filter="url(#bl1)"/>
<path d="M160.64 695.57Q168.72 699.73 177.02 702.38" stroke="#cfb39e" stroke-width="1.3" fill="none" opacity="0.9" filter="url(#bl1)"/>
<path d="M157.18 711.26Q166.41 715.41 175.64 718.18" stroke="#cfb39e" stroke-width="1.3" fill="none" opacity="0.9" filter="url(#bl1)"/>
<circle cx="85" cy="656.4" r="7.0" fill="#c8582a"/>
<circle cx="87" cy="656.4" r="1.3" fill="#1a1a1a"/>
</g>
<rect x="71.45" y="596.35" width="82.4" height="22.5" rx="11.25" fill="#fff" stroke="#ec9a30" stroke-width="1.9"/>
<text x="112.65" y="611.82" font-size="12.9" text-anchor="middle" font-weight="normal" fill="#e8912a" >Forearm</text>
<path d="M264.5 242V368H380.5" fill="none" stroke="#3a3a3a" stroke-width="1.1"/>
<path d="M264.5 358h4.6M264.5 338.7h2.8M264.5 319.4h4.6M264.5 300.1h2.8M264.5 280.8h4.6M264.5 261.5h2.8M264.5 242.2h4.6M290.82 368v-2.3M317.15 368v-4.4M343.48 368v-2.3M369.8 368v-4.4" stroke="#3a3a3a" stroke-width="1"/>
<text x="259.2" y="362.62" font-size="12.9" text-anchor="end" font-weight="normal" fill="#2b2b2b" >0</text>
<text x="259.2" y="324.02" font-size="12.9" text-anchor="end" font-weight="normal" fill="#2b2b2b" >10</text>
<text x="259.2" y="285.42" font-size="12.9" text-anchor="end" font-weight="normal" fill="#2b2b2b" >20</text>
<text x="259.2" y="246.82" font-size="12.9" text-anchor="end" font-weight="normal" fill="#2b2b2b" >30</text>
<text x="264.5" y="383.7" font-size="12.9" text-anchor="middle" font-weight="normal" fill="#2b2b2b" >0</text>
<text x="317.15" y="383.7" font-size="12.9" text-anchor="middle" font-weight="normal" fill="#2b2b2b" >25</text>
<text x="369.8" y="383.7" font-size="12.9" text-anchor="middle" font-weight="normal" fill="#2b2b2b" >50</text>
<polyline points="275.03,256.1 285.56,274.62 296.09,285.82 306.62,298.56 317.15,306.28 327.68,311.68 338.21,315.93 348.74,320.17 359.27,330.59 369.8,334.84" fill="none" stroke="#f08a46" stroke-width="1.0" stroke-linejoin="round"/>
<circle cx="275.03" cy="256.1" r="1.9" fill="#fff" stroke="#f08a46" stroke-width="0.9"/>
<circle cx="285.56" cy="274.62" r="1.9" fill="#fff" stroke="#f08a46" stroke-width="0.9"/>
<circle cx="296.09" cy="285.82" r="1.9" fill="#fff" stroke="#f08a46" stroke-width="0.9"/>
<circle cx="306.62" cy="298.56" r="1.9" fill="#fff" stroke="#f08a46" stroke-width="0.9"/>
<circle cx="317.15" cy="306.28" r="1.9" fill="#fff" stroke="#f08a46" stroke-width="0.9"/>
<circle cx="327.68" cy="311.68" r="1.9" fill="#fff" stroke="#f08a46" stroke-width="0.9"/>
<circle cx="338.21" cy="315.93" r="1.9" fill="#fff" stroke="#f08a46" stroke-width="0.9"/>
<circle cx="348.74" cy="320.17" r="1.9" fill="#fff" stroke="#f08a46" stroke-width="0.9"/>
<circle cx="359.27" cy="330.59" r="1.9" fill="#fff" stroke="#f08a46" stroke-width="0.9"/>
<circle cx="369.8" cy="334.84" r="1.9" fill="#fff" stroke="#f08a46" stroke-width="0.9"/>
<polyline points="275.03,262.66 285.56,286.2 296.09,298.94 306.62,308.59 317.15,316.31 327.68,320.56 338.21,325.96 348.74,332.14 359.27,336.38 369.8,339.86" fill="none" stroke="#6656a8" stroke-width="1.0" stroke-linejoin="round"/>
<circle cx="275.03" cy="262.66" r="1.9" fill="#fff" stroke="#6656a8" stroke-width="0.9"/>
<circle cx="285.56" cy="286.2" r="1.9" fill="#fff" stroke="#6656a8" stroke-width="0.9"/>
<circle cx="296.09" cy="298.94" r="1.9" fill="#fff" stroke="#6656a8" stroke-width="0.9"/>
<circle cx="306.62" cy="308.59" r="1.9" fill="#fff" stroke="#6656a8" stroke-width="0.9"/>
<circle cx="317.15" cy="316.31" r="1.9" fill="#fff" stroke="#6656a8" stroke-width="0.9"/>
<circle cx="327.68" cy="320.56" r="1.9" fill="#fff" stroke="#6656a8" stroke-width="0.9"/>
<circle cx="338.21" cy="325.96" r="1.9" fill="#fff" stroke="#6656a8" stroke-width="0.9"/>
<circle cx="348.74" cy="332.14" r="1.9" fill="#fff" stroke="#6656a8" stroke-width="0.9"/>
<circle cx="359.27" cy="336.38" r="1.9" fill="#fff" stroke="#6656a8" stroke-width="0.9"/>
<circle cx="369.8" cy="339.86" r="1.9" fill="#fff" stroke="#6656a8" stroke-width="0.9"/>
<polyline points="275.03,256.87 285.56,278.87 296.09,291.61 306.62,302.42 317.15,310.14 327.68,316.31 338.21,321.72 348.74,326.35 359.27,329.05 369.8,332.91" fill="none" stroke="#25b8b8" stroke-width="1.0" stroke-linejoin="round"/>
<circle cx="275.03" cy="256.87" r="1.9" fill="#fff" stroke="#25b8b8" stroke-width="0.9"/>
<circle cx="285.56" cy="278.87" r="1.9" fill="#fff" stroke="#25b8b8" stroke-width="0.9"/>
<circle cx="296.09" cy="291.61" r="1.9" fill="#fff" stroke="#25b8b8" stroke-width="0.9"/>
<circle cx="306.62" cy="302.42" r="1.9" fill="#fff" stroke="#25b8b8" stroke-width="0.9"/>
<circle cx="317.15" cy="310.14" r="1.9" fill="#fff" stroke="#25b8b8" stroke-width="0.9"/>
<circle cx="327.68" cy="316.31" r="1.9" fill="#fff" stroke="#25b8b8" stroke-width="0.9"/>
<circle cx="338.21" cy="321.72" r="1.9" fill="#fff" stroke="#25b8b8" stroke-width="0.9"/>
<circle cx="348.74" cy="326.35" r="1.9" fill="#fff" stroke="#25b8b8" stroke-width="0.9"/>
<circle cx="359.27" cy="329.05" r="1.9" fill="#fff" stroke="#25b8b8" stroke-width="0.9"/>
<circle cx="369.8" cy="332.91" r="1.9" fill="#fff" stroke="#25b8b8" stroke-width="0.9"/>
<path d="M407.6 242V368H523.6" fill="none" stroke="#3a3a3a" stroke-width="1.1"/>
<path d="M407.6 358h4.6M407.6 338.7h2.8M407.6 319.4h4.6M407.6 300.1h2.8M407.6 280.8h4.6M407.6 261.5h2.8M407.6 242.2h4.6M433.93 368v-2.3M460.25 368v-4.4M486.58 368v-2.3M512.9 368v-4.4" stroke="#3a3a3a" stroke-width="1"/>
<text x="407.6" y="383.7" font-size="12.9" text-anchor="middle" font-weight="normal" fill="#2b2b2b" >0</text>
<text x="460.25" y="383.7" font-size="12.9" text-anchor="middle" font-weight="normal" fill="#2b2b2b" >25</text>
<text x="512.9" y="383.7" font-size="12.9" text-anchor="middle" font-weight="normal" fill="#2b2b2b" >50</text>
<polyline points="418.13,253.78 428.66,276.94 439.19,292.77 449.72,303.96 460.25,315.93 470.78,315.93 481.31,319.79 491.84,327.51 502.37,330.98 512.9,339.09" fill="none" stroke="#f08a46" stroke-width="1.0" stroke-linejoin="round"/>
<circle cx="418.13" cy="253.78" r="1.9" fill="#fff" stroke="#f08a46" stroke-width="0.9"/>
<circle cx="428.66" cy="276.94" r="1.9" fill="#fff" stroke="#f08a46" stroke-width="0.9"/>
<circle cx="439.19" cy="292.77" r="1.9" fill="#fff" stroke="#f08a46" stroke-width="0.9"/>
<circle cx="449.72" cy="303.96" r="1.9" fill="#fff" stroke="#f08a46" stroke-width="0.9"/>
<circle cx="460.25" cy="315.93" r="1.9" fill="#fff" stroke="#f08a46" stroke-width="0.9"/>
<circle cx="470.78" cy="315.93" r="1.9" fill="#fff" stroke="#f08a46" stroke-width="0.9"/>
<circle cx="481.31" cy="319.79" r="1.9" fill="#fff" stroke="#f08a46" stroke-width="0.9"/>
<circle cx="491.84" cy="327.51" r="1.9" fill="#fff" stroke="#f08a46" stroke-width="0.9"/>
<circle cx="502.37" cy="330.98" r="1.9" fill="#fff" stroke="#f08a46" stroke-width="0.9"/>
<circle cx="512.9" cy="339.09" r="1.9" fill="#fff" stroke="#f08a46" stroke-width="0.9"/>
<polyline points="418.13,253.78 428.66,276.94 439.19,292.77 449.72,303.96 460.25,311.68 470.78,315.93 481.31,323.26 491.84,331.37 502.37,331.37 512.9,339.09" fill="none" stroke="#6656a8" stroke-width="1.0" stroke-linejoin="round"/>
<circle cx="418.13" cy="253.78" r="1.9" fill="#fff" stroke="#6656a8" stroke-width="0.9"/>
<circle cx="428.66" cy="276.94" r="1.9" fill="#fff" stroke="#6656a8" stroke-width="0.9"/>
<circle cx="439.19" cy="292.77" r="1.9" fill="#fff" stroke="#6656a8" stroke-width="0.9"/>
<circle cx="449.72" cy="303.96" r="1.9" fill="#fff" stroke="#6656a8" stroke-width="0.9"/>
<circle cx="460.25" cy="311.68" r="1.9" fill="#fff" stroke="#6656a8" stroke-width="0.9"/>
<circle cx="470.78" cy="315.93" r="1.9" fill="#fff" stroke="#6656a8" stroke-width="0.9"/>
<circle cx="481.31" cy="323.26" r="1.9" fill="#fff" stroke="#6656a8" stroke-width="0.9"/>
<circle cx="491.84" cy="331.37" r="1.9" fill="#fff" stroke="#6656a8" stroke-width="0.9"/>
<circle cx="502.37" cy="331.37" r="1.9" fill="#fff" stroke="#6656a8" stroke-width="0.9"/>
<circle cx="512.9" cy="339.09" r="1.9" fill="#fff" stroke="#6656a8" stroke-width="0.9"/>
<polyline points="418.13,253.78 428.66,281.19 439.19,300.1 449.72,311.68 460.25,319.79 470.78,327.51 481.31,331.37 491.84,339.09 502.37,346.81 512.9,350.67" fill="none" stroke="#25b8b8" stroke-width="1.0" stroke-linejoin="round"/>
<circle cx="418.13" cy="253.78" r="1.9" fill="#fff" stroke="#25b8b8" stroke-width="0.9"/>
<circle cx="428.66" cy="281.19" r="1.9" fill="#fff" stroke="#25b8b8" stroke-width="0.9"/>
<circle cx="439.19" cy="300.1" r="1.9" fill="#fff" stroke="#25b8b8" stroke-width="0.9"/>
<circle cx="449.72" cy="311.68" r="1.9" fill="#fff" stroke="#25b8b8" stroke-width="0.9"/>
<circle cx="460.25" cy="319.79" r="1.9" fill="#fff" stroke="#25b8b8" stroke-width="0.9"/>
<circle cx="470.78" cy="327.51" r="1.9" fill="#fff" stroke="#25b8b8" stroke-width="0.9"/>
<circle cx="481.31" cy="331.37" r="1.9" fill="#fff" stroke="#25b8b8" stroke-width="0.9"/>
<circle cx="491.84" cy="339.09" r="1.9" fill="#fff" stroke="#25b8b8" stroke-width="0.9"/>
<circle cx="502.37" cy="346.81" r="1.9" fill="#fff" stroke="#25b8b8" stroke-width="0.9"/>
<circle cx="512.9" cy="350.67" r="1.9" fill="#fff" stroke="#25b8b8" stroke-width="0.9"/>
<path d="M552.6 242V368H668.6" fill="none" stroke="#3a3a3a" stroke-width="1.1"/>
<path d="M552.6 358h4.6M552.6 338.7h2.8M552.6 319.4h4.6M552.6 300.1h2.8M552.6 280.8h4.6M552.6 261.5h2.8M552.6 242.2h4.6M578.93 368v-2.3M605.25 368v-4.4M631.58 368v-2.3M657.9 368v-4.4" stroke="#3a3a3a" stroke-width="1"/>
<text x="552.6" y="383.7" font-size="12.9" text-anchor="middle" font-weight="normal" fill="#2b2b2b" >0</text>
<text x="605.25" y="383.7" font-size="12.9" text-anchor="middle" font-weight="normal" fill="#2b2b2b" >25</text>
<text x="657.9" y="383.7" font-size="12.9" text-anchor="middle" font-weight="normal" fill="#2b2b2b" >50</text>
<polyline points="563.13,285.05 573.66,292.77 584.19,303.96 594.72,307.82 605.25,315.93 615.78,319.79 626.31,327.51 636.84,327.51 647.37,329.44 657.9,331.37" fill="none" stroke="#f08a46" stroke-width="1.0" stroke-linejoin="round"/>
<circle cx="563.13" cy="285.05" r="1.9" fill="#fff" stroke="#f08a46" stroke-width="0.9"/>
<circle cx="573.66" cy="292.77" r="1.9" fill="#fff" stroke="#f08a46" stroke-width="0.9"/>
<circle cx="584.19" cy="303.96" r="1.9" fill="#fff" stroke="#f08a46" stroke-width="0.9"/>
<circle cx="594.72" cy="307.82" r="1.9" fill="#fff" stroke="#f08a46" stroke-width="0.9"/>
<circle cx="605.25" cy="315.93" r="1.9" fill="#fff" stroke="#f08a46" stroke-width="0.9"/>
<circle cx="615.78" cy="319.79" r="1.9" fill="#fff" stroke="#f08a46" stroke-width="0.9"/>
<circle cx="626.31" cy="327.51" r="1.9" fill="#fff" stroke="#f08a46" stroke-width="0.9"/>
<circle cx="636.84" cy="327.51" r="1.9" fill="#fff" stroke="#f08a46" stroke-width="0.9"/>
<circle cx="647.37" cy="329.44" r="1.9" fill="#fff" stroke="#f08a46" stroke-width="0.9"/>
<circle cx="657.9" cy="331.37" r="1.9" fill="#fff" stroke="#f08a46" stroke-width="0.9"/>
<polyline points="563.13,273.47 573.66,285.05 584.19,296.63 594.72,303.96 605.25,307.82 615.78,311.68 626.31,323.65 636.84,327.51 647.37,327.51 657.9,331.37" fill="none" stroke="#6656a8" stroke-width="1.0" stroke-linejoin="round"/>
<circle cx="563.13" cy="273.47" r="1.9" fill="#fff" stroke="#6656a8" stroke-width="0.9"/>
<circle cx="573.66" cy="285.05" r="1.9" fill="#fff" stroke="#6656a8" stroke-width="0.9"/>
<circle cx="584.19" cy="296.63" r="1.9" fill="#fff" stroke="#6656a8" stroke-width="0.9"/>
<circle cx="594.72" cy="303.96" r="1.9" fill="#fff" stroke="#6656a8" stroke-width="0.9"/>
<circle cx="605.25" cy="307.82" r="1.9" fill="#fff" stroke="#6656a8" stroke-width="0.9"/>
<circle cx="615.78" cy="311.68" r="1.9" fill="#fff" stroke="#6656a8" stroke-width="0.9"/>
<circle cx="626.31" cy="323.65" r="1.9" fill="#fff" stroke="#6656a8" stroke-width="0.9"/>
<circle cx="636.84" cy="327.51" r="1.9" fill="#fff" stroke="#6656a8" stroke-width="0.9"/>
<circle cx="647.37" cy="327.51" r="1.9" fill="#fff" stroke="#6656a8" stroke-width="0.9"/>
<circle cx="657.9" cy="331.37" r="1.9" fill="#fff" stroke="#6656a8" stroke-width="0.9"/>
<polyline points="563.13,276.94 573.66,288.91 584.19,300.1 594.72,307.82 605.25,315.93 615.78,319.79 626.31,323.65 636.84,327.51 647.37,331.37 657.9,335.23" fill="none" stroke="#25b8b8" stroke-width="1.0" stroke-linejoin="round"/>
<circle cx="563.13" cy="276.94" r="1.9" fill="#fff" stroke="#25b8b8" stroke-width="0.9"/>
<circle cx="573.66" cy="288.91" r="1.9" fill="#fff" stroke="#25b8b8" stroke-width="0.9"/>
<circle cx="584.19" cy="300.1" r="1.9" fill="#fff" stroke="#25b8b8" stroke-width="0.9"/>
<circle cx="594.72" cy="307.82" r="1.9" fill="#fff" stroke="#25b8b8" stroke-width="0.9"/>
<circle cx="605.25" cy="315.93" r="1.9" fill="#fff" stroke="#25b8b8" stroke-width="0.9"/>
<circle cx="615.78" cy="319.79" r="1.9" fill="#fff" stroke="#25b8b8" stroke-width="0.9"/>
<circle cx="626.31" cy="323.65" r="1.9" fill="#fff" stroke="#25b8b8" stroke-width="0.9"/>
<circle cx="636.84" cy="327.51" r="1.9" fill="#fff" stroke="#25b8b8" stroke-width="0.9"/>
<circle cx="647.37" cy="331.37" r="1.9" fill="#fff" stroke="#25b8b8" stroke-width="0.9"/>
<circle cx="657.9" cy="335.23" r="1.9" fill="#fff" stroke="#25b8b8" stroke-width="0.9"/>
<text transform="translate(234.5,305) rotate(-90)" x="0" y="0" font-size="12.9" text-anchor="middle" fill="#2b2b2b">&#916;<tspan font-style="italic">V</tspan> (mV)</text>
<text x="463.3" y="400.5" font-size="12.9" text-anchor="middle" font-weight="normal" fill="#2b2b2b" >Time (s)</text>
<path d="M264.5 419.5V545H380.5" fill="none" stroke="#3a3a3a" stroke-width="1.1"/>
<path d="M264.5 534h4.6M264.5 522.59h2.8M264.5 511.18h4.6M264.5 499.76h2.8M264.5 488.35h4.6M264.5 476.94h2.8M264.5 465.52h4.6M264.5 454.11h2.8M264.5 442.7h4.6M264.5 431.29h2.8M264.5 419.88h4.6M290.82 545v-2.3M317.15 545v-4.4M343.48 545v-2.3M369.8 545v-4.4" stroke="#3a3a3a" stroke-width="1"/>
<text x="259.2" y="538.62" font-size="12.9" text-anchor="end" font-weight="normal" fill="#2b2b2b" >0</text>
<text x="259.2" y="515.79" font-size="12.9" text-anchor="end" font-weight="normal" fill="#2b2b2b" >5</text>
<text x="259.2" y="492.97" font-size="12.9" text-anchor="end" font-weight="normal" fill="#2b2b2b" >10</text>
<text x="259.2" y="470.14" font-size="12.9" text-anchor="end" font-weight="normal" fill="#2b2b2b" >15</text>
<text x="259.2" y="447.32" font-size="12.9" text-anchor="end" font-weight="normal" fill="#2b2b2b" >20</text>
<text x="259.2" y="424.49" font-size="12.9" text-anchor="end" font-weight="normal" fill="#2b2b2b" >25</text>
<text x="264.5" y="560.7" font-size="12.9" text-anchor="middle" font-weight="normal" fill="#2b2b2b" >0</text>
<text x="317.15" y="560.7" font-size="12.9" text-anchor="middle" font-weight="normal" fill="#2b2b2b" >25</text>
<text x="369.8" y="560.7" font-size="12.9" text-anchor="middle" font-weight="normal" fill="#2b2b2b" >50</text>
<polyline points="275.03,457.31 285.56,470.09 296.09,471.46 306.62,476.48 317.15,485.15 327.68,496.57 338.21,500.22 348.74,503.87 359.27,507.07 369.8,509.81" fill="none" stroke="#f08a46" stroke-width="1.0" stroke-linejoin="round"/>
<circle cx="275.03" cy="457.31" r="1.9" fill="#fff" stroke="#f08a46" stroke-width="0.9"/>
<circle cx="285.56" cy="470.09" r="1.9" fill="#fff" stroke="#f08a46" stroke-width="0.9"/>
<circle cx="296.09" cy="471.46" r="1.9" fill="#fff" stroke="#f08a46" stroke-width="0.9"/>
<circle cx="306.62" cy="476.48" r="1.9" fill="#fff" stroke="#f08a46" stroke-width="0.9"/>
<circle cx="317.15" cy="485.15" r="1.9" fill="#fff" stroke="#f08a46" stroke-width="0.9"/>
<circle cx="327.68" cy="496.57" r="1.9" fill="#fff" stroke="#f08a46" stroke-width="0.9"/>
<circle cx="338.21" cy="500.22" r="1.9" fill="#fff" stroke="#f08a46" stroke-width="0.9"/>
<circle cx="348.74" cy="503.87" r="1.9" fill="#fff" stroke="#f08a46" stroke-width="0.9"/>
<circle cx="359.27" cy="507.07" r="1.9" fill="#fff" stroke="#f08a46" stroke-width="0.9"/>
<circle cx="369.8" cy="509.81" r="1.9" fill="#fff" stroke="#f08a46" stroke-width="0.9"/>
<polyline points="275.03,455.03 285.56,463.24 296.09,472.83 306.62,482.42 317.15,487.44 327.68,490.18 338.21,498.39 348.74,503.87 359.27,502.05 369.8,515.74" fill="none" stroke="#6656a8" stroke-width="1.0" stroke-linejoin="round"/>
<circle cx="275.03" cy="455.03" r="1.9" fill="#fff" stroke="#6656a8" stroke-width="0.9"/>
<circle cx="285.56" cy="463.24" r="1.9" fill="#fff" stroke="#6656a8" stroke-width="0.9"/>
<circle cx="296.09" cy="472.83" r="1.9" fill="#fff" stroke="#6656a8" stroke-width="0.9"/>
<circle cx="306.62" cy="482.42" r="1.9" fill="#fff" stroke="#6656a8" stroke-width="0.9"/>
<circle cx="317.15" cy="487.44" r="1.9" fill="#fff" stroke="#6656a8" stroke-width="0.9"/>
<circle cx="327.68" cy="490.18" r="1.9" fill="#fff" stroke="#6656a8" stroke-width="0.9"/>
<circle cx="338.21" cy="498.39" r="1.9" fill="#fff" stroke="#6656a8" stroke-width="0.9"/>
<circle cx="348.74" cy="503.87" r="1.9" fill="#fff" stroke="#6656a8" stroke-width="0.9"/>
<circle cx="359.27" cy="502.05" r="1.9" fill="#fff" stroke="#6656a8" stroke-width="0.9"/>
<circle cx="369.8" cy="515.74" r="1.9" fill="#fff" stroke="#6656a8" stroke-width="0.9"/>
<polyline points="275.03,460.96 285.56,473.74 296.09,481.05 306.62,486.98 317.15,483.78 327.68,497.48 338.21,498.39 348.74,507.07 359.27,511.63 369.8,519.39" fill="none" stroke="#25b8b8" stroke-width="1.0" stroke-linejoin="round"/>
<circle cx="275.03" cy="460.96" r="1.9" fill="#fff" stroke="#25b8b8" stroke-width="0.9"/>
<circle cx="285.56" cy="473.74" r="1.9" fill="#fff" stroke="#25b8b8" stroke-width="0.9"/>
<circle cx="296.09" cy="481.05" r="1.9" fill="#fff" stroke="#25b8b8" stroke-width="0.9"/>
<circle cx="306.62" cy="486.98" r="1.9" fill="#fff" stroke="#25b8b8" stroke-width="0.9"/>
<circle cx="317.15" cy="483.78" r="1.9" fill="#fff" stroke="#25b8b8" stroke-width="0.9"/>
<circle cx="327.68" cy="497.48" r="1.9" fill="#fff" stroke="#25b8b8" stroke-width="0.9"/>
<circle cx="338.21" cy="498.39" r="1.9" fill="#fff" stroke="#25b8b8" stroke-width="0.9"/>
<circle cx="348.74" cy="507.07" r="1.9" fill="#fff" stroke="#25b8b8" stroke-width="0.9"/>
<circle cx="359.27" cy="511.63" r="1.9" fill="#fff" stroke="#25b8b8" stroke-width="0.9"/>
<circle cx="369.8" cy="519.39" r="1.9" fill="#fff" stroke="#25b8b8" stroke-width="0.9"/>
<path d="M407.6 419.5V545H523.6" fill="none" stroke="#3a3a3a" stroke-width="1.1"/>
<path d="M407.6 534h4.6M407.6 522.59h2.8M407.6 511.18h4.6M407.6 499.76h2.8M407.6 488.35h4.6M407.6 476.94h2.8M407.6 465.52h4.6M407.6 454.11h2.8M407.6 442.7h4.6M407.6 431.29h2.8M407.6 419.88h4.6M433.93 545v-2.3M460.25 545v-4.4M486.58 545v-2.3M512.9 545v-4.4" stroke="#3a3a3a" stroke-width="1"/>
<text x="407.6" y="560.7" font-size="12.9" text-anchor="middle" font-weight="normal" fill="#2b2b2b" >0</text>
<text x="460.25" y="560.7" font-size="12.9" text-anchor="middle" font-weight="normal" fill="#2b2b2b" >25</text>
<text x="512.9" y="560.7" font-size="12.9" text-anchor="middle" font-weight="normal" fill="#2b2b2b" >50</text>
<polyline points="418.13,450.46 428.66,463.24 439.19,485.15 449.72,489.26 460.25,503.41 470.78,518.94 481.31,526.24 491.84,528.07 502.37,531.72 512.9,534" fill="none" stroke="#f08a46" stroke-width="1.0" stroke-linejoin="round"/>
<circle cx="418.13" cy="450.46" r="1.9" fill="#fff" stroke="#f08a46" stroke-width="0.9"/>
<circle cx="428.66" cy="463.24" r="1.9" fill="#fff" stroke="#f08a46" stroke-width="0.9"/>
<circle cx="439.19" cy="485.15" r="1.9" fill="#fff" stroke="#f08a46" stroke-width="0.9"/>
<circle cx="449.72" cy="489.26" r="1.9" fill="#fff" stroke="#f08a46" stroke-width="0.9"/>
<circle cx="460.25" cy="503.41" r="1.9" fill="#fff" stroke="#f08a46" stroke-width="0.9"/>
<circle cx="470.78" cy="518.94" r="1.9" fill="#fff" stroke="#f08a46" stroke-width="0.9"/>
<circle cx="481.31" cy="526.24" r="1.9" fill="#fff" stroke="#f08a46" stroke-width="0.9"/>
<circle cx="491.84" cy="528.07" r="1.9" fill="#fff" stroke="#f08a46" stroke-width="0.9"/>
<circle cx="502.37" cy="531.72" r="1.9" fill="#fff" stroke="#f08a46" stroke-width="0.9"/>
<circle cx="512.9" cy="534" r="1.9" fill="#fff" stroke="#f08a46" stroke-width="0.9"/>
<polyline points="418.13,445.44 428.66,459.13 439.19,471 449.72,480.13 460.25,487.44 470.78,507.52 481.31,512.09 491.84,519.85 502.37,523.96 512.9,527.15" fill="none" stroke="#6656a8" stroke-width="1.0" stroke-linejoin="round"/>
<circle cx="418.13" cy="445.44" r="1.9" fill="#fff" stroke="#6656a8" stroke-width="0.9"/>
<circle cx="428.66" cy="459.13" r="1.9" fill="#fff" stroke="#6656a8" stroke-width="0.9"/>
<circle cx="439.19" cy="471" r="1.9" fill="#fff" stroke="#6656a8" stroke-width="0.9"/>
<circle cx="449.72" cy="480.13" r="1.9" fill="#fff" stroke="#6656a8" stroke-width="0.9"/>
<circle cx="460.25" cy="487.44" r="1.9" fill="#fff" stroke="#6656a8" stroke-width="0.9"/>
<circle cx="470.78" cy="507.52" r="1.9" fill="#fff" stroke="#6656a8" stroke-width="0.9"/>
<circle cx="481.31" cy="512.09" r="1.9" fill="#fff" stroke="#6656a8" stroke-width="0.9"/>
<circle cx="491.84" cy="519.85" r="1.9" fill="#fff" stroke="#6656a8" stroke-width="0.9"/>
<circle cx="502.37" cy="523.96" r="1.9" fill="#fff" stroke="#6656a8" stroke-width="0.9"/>
<circle cx="512.9" cy="527.15" r="1.9" fill="#fff" stroke="#6656a8" stroke-width="0.9"/>
<polyline points="418.13,450.92 428.66,472.83 439.19,485.15 449.72,492 460.25,497.48 470.78,513.91 481.31,518.94 491.84,528.07 502.37,529.43 512.9,531.26" fill="none" stroke="#25b8b8" stroke-width="1.0" stroke-linejoin="round"/>
<circle cx="418.13" cy="450.92" r="1.9" fill="#fff" stroke="#25b8b8" stroke-width="0.9"/>
<circle cx="428.66" cy="472.83" r="1.9" fill="#fff" stroke="#25b8b8" stroke-width="0.9"/>
<circle cx="439.19" cy="485.15" r="1.9" fill="#fff" stroke="#25b8b8" stroke-width="0.9"/>
<circle cx="449.72" cy="492" r="1.9" fill="#fff" stroke="#25b8b8" stroke-width="0.9"/>
<circle cx="460.25" cy="497.48" r="1.9" fill="#fff" stroke="#25b8b8" stroke-width="0.9"/>
<circle cx="470.78" cy="513.91" r="1.9" fill="#fff" stroke="#25b8b8" stroke-width="0.9"/>
<circle cx="481.31" cy="518.94" r="1.9" fill="#fff" stroke="#25b8b8" stroke-width="0.9"/>
<circle cx="491.84" cy="528.07" r="1.9" fill="#fff" stroke="#25b8b8" stroke-width="0.9"/>
<circle cx="502.37" cy="529.43" r="1.9" fill="#fff" stroke="#25b8b8" stroke-width="0.9"/>
<circle cx="512.9" cy="531.26" r="1.9" fill="#fff" stroke="#25b8b8" stroke-width="0.9"/>
<path d="M552.6 419.5V545H668.6" fill="none" stroke="#3a3a3a" stroke-width="1.1"/>
<path d="M552.6 534h4.6M552.6 522.59h2.8M552.6 511.18h4.6M552.6 499.76h2.8M552.6 488.35h4.6M552.6 476.94h2.8M552.6 465.52h4.6M552.6 454.11h2.8M552.6 442.7h4.6M552.6 431.29h2.8M552.6 419.88h4.6M578.93 545v-2.3M605.25 545v-4.4M631.58 545v-2.3M657.9 545v-4.4" stroke="#3a3a3a" stroke-width="1"/>
<text x="552.6" y="560.7" font-size="12.9" text-anchor="middle" font-weight="normal" fill="#2b2b2b" >0</text>
<text x="605.25" y="560.7" font-size="12.9" text-anchor="middle" font-weight="normal" fill="#2b2b2b" >25</text>
<text x="657.9" y="560.7" font-size="12.9" text-anchor="middle" font-weight="normal" fill="#2b2b2b" >50</text>
<polyline points="563.13,424.44 573.66,448.18 584.19,460.96 594.72,470.09 605.25,483.78 615.78,492.92 626.31,502.05 636.84,506.61 647.37,515.74 657.9,520.3" fill="none" stroke="#f08a46" stroke-width="1.0" stroke-linejoin="round"/>
<circle cx="563.13" cy="424.44" r="1.9" fill="#fff" stroke="#f08a46" stroke-width="0.9"/>
<circle cx="573.66" cy="448.18" r="1.9" fill="#fff" stroke="#f08a46" stroke-width="0.9"/>
<circle cx="584.19" cy="460.96" r="1.9" fill="#fff" stroke="#f08a46" stroke-width="0.9"/>
<circle cx="594.72" cy="470.09" r="1.9" fill="#fff" stroke="#f08a46" stroke-width="0.9"/>
<circle cx="605.25" cy="483.78" r="1.9" fill="#fff" stroke="#f08a46" stroke-width="0.9"/>
<circle cx="615.78" cy="492.92" r="1.9" fill="#fff" stroke="#f08a46" stroke-width="0.9"/>
<circle cx="626.31" cy="502.05" r="1.9" fill="#fff" stroke="#f08a46" stroke-width="0.9"/>
<circle cx="636.84" cy="506.61" r="1.9" fill="#fff" stroke="#f08a46" stroke-width="0.9"/>
<circle cx="647.37" cy="515.74" r="1.9" fill="#fff" stroke="#f08a46" stroke-width="0.9"/>
<circle cx="657.9" cy="520.3" r="1.9" fill="#fff" stroke="#f08a46" stroke-width="0.9"/>
<polyline points="563.13,431.29 573.66,450 584.19,462.33 594.72,477.85 605.25,493.83 615.78,502.05 626.31,506.61 636.84,518.02 647.37,521.67 657.9,523.96" fill="none" stroke="#6656a8" stroke-width="1.0" stroke-linejoin="round"/>
<circle cx="563.13" cy="431.29" r="1.9" fill="#fff" stroke="#6656a8" stroke-width="0.9"/>
<circle cx="573.66" cy="450" r="1.9" fill="#fff" stroke="#6656a8" stroke-width="0.9"/>
<circle cx="584.19" cy="462.33" r="1.9" fill="#fff" stroke="#6656a8" stroke-width="0.9"/>
<circle cx="594.72" cy="477.85" r="1.9" fill="#fff" stroke="#6656a8" stroke-width="0.9"/>
<circle cx="605.25" cy="493.83" r="1.9" fill="#fff" stroke="#6656a8" stroke-width="0.9"/>
<circle cx="615.78" cy="502.05" r="1.9" fill="#fff" stroke="#6656a8" stroke-width="0.9"/>
<circle cx="626.31" cy="506.61" r="1.9" fill="#fff" stroke="#6656a8" stroke-width="0.9"/>
<circle cx="636.84" cy="518.02" r="1.9" fill="#fff" stroke="#6656a8" stroke-width="0.9"/>
<circle cx="647.37" cy="521.67" r="1.9" fill="#fff" stroke="#6656a8" stroke-width="0.9"/>
<circle cx="657.9" cy="523.96" r="1.9" fill="#fff" stroke="#6656a8" stroke-width="0.9"/>
<polyline points="563.13,428.55 573.66,447.26 584.19,465.98 594.72,483.78 605.25,497.48 615.78,502.05 626.31,511.63 636.84,511.63 647.37,519.85 657.9,524.87" fill="none" stroke="#25b8b8" stroke-width="1.0" stroke-linejoin="round"/>
<circle cx="563.13" cy="428.55" r="1.9" fill="#fff" stroke="#25b8b8" stroke-width="0.9"/>
<circle cx="573.66" cy="447.26" r="1.9" fill="#fff" stroke="#25b8b8" stroke-width="0.9"/>
<circle cx="584.19" cy="465.98" r="1.9" fill="#fff" stroke="#25b8b8" stroke-width="0.9"/>
<circle cx="594.72" cy="483.78" r="1.9" fill="#fff" stroke="#25b8b8" stroke-width="0.9"/>
<circle cx="605.25" cy="497.48" r="1.9" fill="#fff" stroke="#25b8b8" stroke-width="0.9"/>
<circle cx="615.78" cy="502.05" r="1.9" fill="#fff" stroke="#25b8b8" stroke-width="0.9"/>
<circle cx="626.31" cy="511.63" r="1.9" fill="#fff" stroke="#25b8b8" stroke-width="0.9"/>
<circle cx="636.84" cy="511.63" r="1.9" fill="#fff" stroke="#25b8b8" stroke-width="0.9"/>
<circle cx="647.37" cy="519.85" r="1.9" fill="#fff" stroke="#25b8b8" stroke-width="0.9"/>
<circle cx="657.9" cy="524.87" r="1.9" fill="#fff" stroke="#25b8b8" stroke-width="0.9"/>
<text transform="translate(234.5,482.9) rotate(-90)" x="0" y="0" font-size="12.9" text-anchor="middle" fill="#2b2b2b">&#916;<tspan font-style="italic">V</tspan> (mV)</text>
<text x="463.3" y="579.5" font-size="12.9" text-anchor="middle" font-weight="normal" fill="#2b2b2b" >Time (s)</text>
<path d="M264.1 596.3V727H385.1" fill="none" stroke="#3a3a3a" stroke-width="1.1"/>
<path d="M264.1 720.4h4.6M264.1 706.65h2.8M264.1 692.9h4.6M264.1 679.15h2.8M264.1 665.4h4.6M264.1 651.65h2.8M264.1 637.9h4.6M264.1 624.15h2.8M264.1 610.4h4.6M264.1 596.65h2.8M291.6 727v-2.3M319.1 727v-4.4M346.6 727v-2.3M374.1 727v-4.4" stroke="#3a3a3a" stroke-width="1"/>
<text x="258.8" y="725.02" font-size="12.9" text-anchor="end" font-weight="normal" fill="#2b2b2b" >0</text>
<text x="258.8" y="697.52" font-size="12.9" text-anchor="end" font-weight="normal" fill="#2b2b2b" >10</text>
<text x="258.8" y="670.02" font-size="12.9" text-anchor="end" font-weight="normal" fill="#2b2b2b" >20</text>
<text x="258.8" y="642.52" font-size="12.9" text-anchor="end" font-weight="normal" fill="#2b2b2b" >30</text>
<text x="258.8" y="615.02" font-size="12.9" text-anchor="end" font-weight="normal" fill="#2b2b2b" >40</text>
<text x="264.1" y="742.7" font-size="12.9" text-anchor="middle" font-weight="normal" fill="#2b2b2b" >0</text>
<text x="319.1" y="742.7" font-size="12.9" text-anchor="middle" font-weight="normal" fill="#2b2b2b" >25</text>
<text x="374.1" y="742.7" font-size="12.9" text-anchor="middle" font-weight="normal" fill="#2b2b2b" >50</text>
<polyline points="275.1,634.6 286.1,646.42 297.1,665.67 308.1,671.17 319.1,683.55 330.1,687.12 341.1,695.1 352.1,698.12 363.1,701.15 374.1,705.55" fill="none" stroke="#f08a46" stroke-width="1.0" stroke-linejoin="round"/>
<circle cx="275.1" cy="634.6" r="1.9" fill="#fff" stroke="#f08a46" stroke-width="0.9"/>
<circle cx="286.1" cy="646.42" r="1.9" fill="#fff" stroke="#f08a46" stroke-width="0.9"/>
<circle cx="297.1" cy="665.67" r="1.9" fill="#fff" stroke="#f08a46" stroke-width="0.9"/>
<circle cx="308.1" cy="671.17" r="1.9" fill="#fff" stroke="#f08a46" stroke-width="0.9"/>
<circle cx="319.1" cy="683.55" r="1.9" fill="#fff" stroke="#f08a46" stroke-width="0.9"/>
<circle cx="330.1" cy="687.12" r="1.9" fill="#fff" stroke="#f08a46" stroke-width="0.9"/>
<circle cx="341.1" cy="695.1" r="1.9" fill="#fff" stroke="#f08a46" stroke-width="0.9"/>
<circle cx="352.1" cy="698.12" r="1.9" fill="#fff" stroke="#f08a46" stroke-width="0.9"/>
<circle cx="363.1" cy="701.15" r="1.9" fill="#fff" stroke="#f08a46" stroke-width="0.9"/>
<circle cx="374.1" cy="705.55" r="1.9" fill="#fff" stroke="#f08a46" stroke-width="0.9"/>
<polyline points="275.1,635.98 286.1,651.38 297.1,663.2 308.1,673.65 319.1,684.38 330.1,692.07 341.1,693.45 352.1,696.75 363.1,700.6 374.1,702.25" fill="none" stroke="#6656a8" stroke-width="1.0" stroke-linejoin="round"/>
<circle cx="275.1" cy="635.98" r="1.9" fill="#fff" stroke="#6656a8" stroke-width="0.9"/>
<circle cx="286.1" cy="651.38" r="1.9" fill="#fff" stroke="#6656a8" stroke-width="0.9"/>
<circle cx="297.1" cy="663.2" r="1.9" fill="#fff" stroke="#6656a8" stroke-width="0.9"/>
<circle cx="308.1" cy="673.65" r="1.9" fill="#fff" stroke="#6656a8" stroke-width="0.9"/>
<circle cx="319.1" cy="684.38" r="1.9" fill="#fff" stroke="#6656a8" stroke-width="0.9"/>
<circle cx="330.1" cy="692.07" r="1.9" fill="#fff" stroke="#6656a8" stroke-width="0.9"/>
<circle cx="341.1" cy="693.45" r="1.9" fill="#fff" stroke="#6656a8" stroke-width="0.9"/>
<circle cx="352.1" cy="696.75" r="1.9" fill="#fff" stroke="#6656a8" stroke-width="0.9"/>
<circle cx="363.1" cy="700.6" r="1.9" fill="#fff" stroke="#6656a8" stroke-width="0.9"/>
<circle cx="374.1" cy="702.25" r="1.9" fill="#fff" stroke="#6656a8" stroke-width="0.9"/>
<polyline points="275.1,632.67 286.1,647.52 297.1,665.95 308.1,675.02 319.1,683 330.1,687.67 341.1,694 352.1,699.23 363.1,703.07 374.1,703.9" fill="none" stroke="#25b8b8" stroke-width="1.0" stroke-linejoin="round"/>
<circle cx="275.1" cy="632.67" r="1.9" fill="#fff" stroke="#25b8b8" stroke-width="0.9"/>
<circle cx="286.1" cy="647.52" r="1.9" fill="#fff" stroke="#25b8b8" stroke-width="0.9"/>
<circle cx="297.1" cy="665.95" r="1.9" fill="#fff" stroke="#25b8b8" stroke-width="0.9"/>
<circle cx="308.1" cy="675.02" r="1.9" fill="#fff" stroke="#25b8b8" stroke-width="0.9"/>
<circle cx="319.1" cy="683" r="1.9" fill="#fff" stroke="#25b8b8" stroke-width="0.9"/>
<circle cx="330.1" cy="687.67" r="1.9" fill="#fff" stroke="#25b8b8" stroke-width="0.9"/>
<circle cx="341.1" cy="694" r="1.9" fill="#fff" stroke="#25b8b8" stroke-width="0.9"/>
<circle cx="352.1" cy="699.23" r="1.9" fill="#fff" stroke="#25b8b8" stroke-width="0.9"/>
<circle cx="363.1" cy="703.07" r="1.9" fill="#fff" stroke="#25b8b8" stroke-width="0.9"/>
<circle cx="374.1" cy="703.9" r="1.9" fill="#fff" stroke="#25b8b8" stroke-width="0.9"/>
<path d="M407.6 596.3V727H528.6" fill="none" stroke="#3a3a3a" stroke-width="1.1"/>
<path d="M407.6 720.4h4.6M407.6 706.65h2.8M407.6 692.9h4.6M407.6 679.15h2.8M407.6 665.4h4.6M407.6 651.65h2.8M407.6 637.9h4.6M407.6 624.15h2.8M407.6 610.4h4.6M407.6 596.65h2.8M435.1 727v-2.3M462.6 727v-4.4M490.1 727v-2.3M517.6 727v-4.4" stroke="#3a3a3a" stroke-width="1"/>
<text x="407.6" y="742.7" font-size="12.9" text-anchor="middle" font-weight="normal" fill="#2b2b2b" >0</text>
<text x="462.6" y="742.7" font-size="12.9" text-anchor="middle" font-weight="normal" fill="#2b2b2b" >25</text>
<text x="517.6" y="742.7" font-size="12.9" text-anchor="middle" font-weight="normal" fill="#2b2b2b" >50</text>
<polyline points="418.6,650.27 429.6,664.02 440.6,674.2 451.6,687.12 462.6,692.9 473.6,698.12 484.6,703.9 495.6,708.02 506.6,715.73 517.6,720.4" fill="none" stroke="#f08a46" stroke-width="1.0" stroke-linejoin="round"/>
<circle cx="418.6" cy="650.27" r="1.9" fill="#fff" stroke="#f08a46" stroke-width="0.9"/>
<circle cx="429.6" cy="664.02" r="1.9" fill="#fff" stroke="#f08a46" stroke-width="0.9"/>
<circle cx="440.6" cy="674.2" r="1.9" fill="#fff" stroke="#f08a46" stroke-width="0.9"/>
<circle cx="451.6" cy="687.12" r="1.9" fill="#fff" stroke="#f08a46" stroke-width="0.9"/>
<circle cx="462.6" cy="692.9" r="1.9" fill="#fff" stroke="#f08a46" stroke-width="0.9"/>
<circle cx="473.6" cy="698.12" r="1.9" fill="#fff" stroke="#f08a46" stroke-width="0.9"/>
<circle cx="484.6" cy="703.9" r="1.9" fill="#fff" stroke="#f08a46" stroke-width="0.9"/>
<circle cx="495.6" cy="708.02" r="1.9" fill="#fff" stroke="#f08a46" stroke-width="0.9"/>
<circle cx="506.6" cy="715.73" r="1.9" fill="#fff" stroke="#f08a46" stroke-width="0.9"/>
<circle cx="517.6" cy="720.4" r="1.9" fill="#fff" stroke="#f08a46" stroke-width="0.9"/>
<polyline points="418.6,645.05 429.6,662.1 440.6,672 451.6,677.77 462.6,684.65 473.6,692.07 484.6,696.75 495.6,701.15 506.6,703.9 517.6,709.95" fill="none" stroke="#6656a8" stroke-width="1.0" stroke-linejoin="round"/>
<circle cx="418.6" cy="645.05" r="1.9" fill="#fff" stroke="#6656a8" stroke-width="0.9"/>
<circle cx="429.6" cy="662.1" r="1.9" fill="#fff" stroke="#6656a8" stroke-width="0.9"/>
<circle cx="440.6" cy="672" r="1.9" fill="#fff" stroke="#6656a8" stroke-width="0.9"/>
<circle cx="451.6" cy="677.77" r="1.9" fill="#fff" stroke="#6656a8" stroke-width="0.9"/>
<circle cx="462.6" cy="684.65" r="1.9" fill="#fff" stroke="#6656a8" stroke-width="0.9"/>
<circle cx="473.6" cy="692.07" r="1.9" fill="#fff" stroke="#6656a8" stroke-width="0.9"/>
<circle cx="484.6" cy="696.75" r="1.9" fill="#fff" stroke="#6656a8" stroke-width="0.9"/>
<circle cx="495.6" cy="701.15" r="1.9" fill="#fff" stroke="#6656a8" stroke-width="0.9"/>
<circle cx="506.6" cy="703.9" r="1.9" fill="#fff" stroke="#6656a8" stroke-width="0.9"/>
<circle cx="517.6" cy="709.95" r="1.9" fill="#fff" stroke="#6656a8" stroke-width="0.9"/>
<polyline points="418.6,646.15 429.6,659.35 440.6,668.15 451.6,677.23 462.6,683 473.6,688.77 484.6,697.85 495.6,700.05 506.6,705.55 517.6,708.02" fill="none" stroke="#25b8b8" stroke-width="1.0" stroke-linejoin="round"/>
<circle cx="418.6" cy="646.15" r="1.9" fill="#fff" stroke="#25b8b8" stroke-width="0.9"/>
<circle cx="429.6" cy="659.35" r="1.9" fill="#fff" stroke="#25b8b8" stroke-width="0.9"/>
<circle cx="440.6" cy="668.15" r="1.9" fill="#fff" stroke="#25b8b8" stroke-width="0.9"/>
<circle cx="451.6" cy="677.23" r="1.9" fill="#fff" stroke="#25b8b8" stroke-width="0.9"/>
<circle cx="462.6" cy="683" r="1.9" fill="#fff" stroke="#25b8b8" stroke-width="0.9"/>
<circle cx="473.6" cy="688.77" r="1.9" fill="#fff" stroke="#25b8b8" stroke-width="0.9"/>
<circle cx="484.6" cy="697.85" r="1.9" fill="#fff" stroke="#25b8b8" stroke-width="0.9"/>
<circle cx="495.6" cy="700.05" r="1.9" fill="#fff" stroke="#25b8b8" stroke-width="0.9"/>
<circle cx="506.6" cy="705.55" r="1.9" fill="#fff" stroke="#25b8b8" stroke-width="0.9"/>
<circle cx="517.6" cy="708.02" r="1.9" fill="#fff" stroke="#25b8b8" stroke-width="0.9"/>
<path d="M552.6 596.3V727H673.6" fill="none" stroke="#3a3a3a" stroke-width="1.1"/>
<path d="M552.6 720.4h4.6M552.6 706.65h2.8M552.6 692.9h4.6M552.6 679.15h2.8M552.6 665.4h4.6M552.6 651.65h2.8M552.6 637.9h4.6M552.6 624.15h2.8M552.6 610.4h4.6M552.6 596.65h2.8M580.1 727v-2.3M607.6 727v-4.4M635.1 727v-2.3M662.6 727v-4.4" stroke="#3a3a3a" stroke-width="1"/>
<text x="552.6" y="742.7" font-size="12.9" text-anchor="middle" font-weight="normal" fill="#2b2b2b" >0</text>
<text x="607.6" y="742.7" font-size="12.9" text-anchor="middle" font-weight="normal" fill="#2b2b2b" >25</text>
<text x="662.6" y="742.7" font-size="12.9" text-anchor="middle" font-weight="normal" fill="#2b2b2b" >50</text>
<polyline points="563.6,612.6 574.6,643.67 585.6,663.2 596.6,676.4 607.6,684.92 618.6,692.9 629.6,698.12 640.6,701.15 651.6,703.9 662.6,706.1" fill="none" stroke="#f08a46" stroke-width="1.0" stroke-linejoin="round"/>
<circle cx="563.6" cy="612.6" r="1.9" fill="#fff" stroke="#f08a46" stroke-width="0.9"/>
<circle cx="574.6" cy="643.67" r="1.9" fill="#fff" stroke="#f08a46" stroke-width="0.9"/>
<circle cx="585.6" cy="663.2" r="1.9" fill="#fff" stroke="#f08a46" stroke-width="0.9"/>
<circle cx="596.6" cy="676.4" r="1.9" fill="#fff" stroke="#f08a46" stroke-width="0.9"/>
<circle cx="607.6" cy="684.92" r="1.9" fill="#fff" stroke="#f08a46" stroke-width="0.9"/>
<circle cx="618.6" cy="692.9" r="1.9" fill="#fff" stroke="#f08a46" stroke-width="0.9"/>
<circle cx="629.6" cy="698.12" r="1.9" fill="#fff" stroke="#f08a46" stroke-width="0.9"/>
<circle cx="640.6" cy="701.15" r="1.9" fill="#fff" stroke="#f08a46" stroke-width="0.9"/>
<circle cx="651.6" cy="703.9" r="1.9" fill="#fff" stroke="#f08a46" stroke-width="0.9"/>
<circle cx="662.6" cy="706.1" r="1.9" fill="#fff" stroke="#f08a46" stroke-width="0.9"/>
<polyline points="563.6,607.65 574.6,635.15 585.6,662.65 596.6,673.65 607.6,687.12 618.6,692.9 629.6,695.38 640.6,695.65 651.6,698.12 662.6,706.65" fill="none" stroke="#6656a8" stroke-width="1.0" stroke-linejoin="round"/>
<circle cx="563.6" cy="607.65" r="1.9" fill="#fff" stroke="#6656a8" stroke-width="0.9"/>
<circle cx="574.6" cy="635.15" r="1.9" fill="#fff" stroke="#6656a8" stroke-width="0.9"/>
<circle cx="585.6" cy="662.65" r="1.9" fill="#fff" stroke="#6656a8" stroke-width="0.9"/>
<circle cx="596.6" cy="673.65" r="1.9" fill="#fff" stroke="#6656a8" stroke-width="0.9"/>
<circle cx="607.6" cy="687.12" r="1.9" fill="#fff" stroke="#6656a8" stroke-width="0.9"/>
<circle cx="618.6" cy="692.9" r="1.9" fill="#fff" stroke="#6656a8" stroke-width="0.9"/>
<circle cx="629.6" cy="695.38" r="1.9" fill="#fff" stroke="#6656a8" stroke-width="0.9"/>
<circle cx="640.6" cy="695.65" r="1.9" fill="#fff" stroke="#6656a8" stroke-width="0.9"/>
<circle cx="651.6" cy="698.12" r="1.9" fill="#fff" stroke="#6656a8" stroke-width="0.9"/>
<circle cx="662.6" cy="706.65" r="1.9" fill="#fff" stroke="#6656a8" stroke-width="0.9"/>
<polyline points="563.6,613.15 574.6,635.15 585.6,656.05 596.6,667.88 607.6,678.88 618.6,687.12 629.6,692.62 640.6,697.85 651.6,701.15 662.6,703.9" fill="none" stroke="#25b8b8" stroke-width="1.0" stroke-linejoin="round"/>
<circle cx="563.6" cy="613.15" r="1.9" fill="#fff" stroke="#25b8b8" stroke-width="0.9"/>
<circle cx="574.6" cy="635.15" r="1.9" fill="#fff" stroke="#25b8b8" stroke-width="0.9"/>
<circle cx="585.6" cy="656.05" r="1.9" fill="#fff" stroke="#25b8b8" stroke-width="0.9"/>
<circle cx="596.6" cy="667.88" r="1.9" fill="#fff" stroke="#25b8b8" stroke-width="0.9"/>
<circle cx="607.6" cy="678.88" r="1.9" fill="#fff" stroke="#25b8b8" stroke-width="0.9"/>
<circle cx="618.6" cy="687.12" r="1.9" fill="#fff" stroke="#25b8b8" stroke-width="0.9"/>
<circle cx="629.6" cy="692.62" r="1.9" fill="#fff" stroke="#25b8b8" stroke-width="0.9"/>
<circle cx="640.6" cy="697.85" r="1.9" fill="#fff" stroke="#25b8b8" stroke-width="0.9"/>
<circle cx="651.6" cy="701.15" r="1.9" fill="#fff" stroke="#25b8b8" stroke-width="0.9"/>
<circle cx="662.6" cy="703.9" r="1.9" fill="#fff" stroke="#25b8b8" stroke-width="0.9"/>
<text transform="translate(234.1,662.3) rotate(-90)" x="0" y="0" font-size="12.9" text-anchor="middle" fill="#2b2b2b">&#916;<tspan font-style="italic">V</tspan> (mV)</text>
<text x="463.3" y="761.6" font-size="12.9" text-anchor="middle" font-weight="normal" fill="#2b2b2b" >Time (s)</text>
<rect x="277.9" y="215.4" width="83.2" height="23.6" rx="11" fill="#e99222"/>
<text x="319.5" y="229.97" font-size="12.5" text-anchor="middle" font-weight="normal" fill="#fff" >Female 1</text>
<rect x="420" y="215.2" width="83" height="23.6" rx="11" fill="#e99222"/>
<text x="461.5" y="229.78" font-size="12.5" text-anchor="middle" font-weight="normal" fill="#fff" >Female 2</text>
<rect x="570.3" y="215.4" width="82.3" height="23.6" rx="11" fill="#e99222"/>
<text x="611.45" y="229.97" font-size="12.5" text-anchor="middle" font-weight="normal" fill="#fff" >Male 1</text>
<text x="1.8" y="11.7" font-size="16.5" text-anchor="start" font-weight="bold" fill="#1a1a1a" >a</text>
<text x="148.7" y="11.7" font-size="16.5" text-anchor="start" font-weight="bold" fill="#1a1a1a" >b</text>
<text x="367.2" y="11.8" font-size="16.5" text-anchor="start" font-weight="bold" fill="#1a1a1a" >c</text>
<text x="530.3" y="13.5" font-size="16.5" text-anchor="start" font-weight="bold" fill="#1a1a1a" >d</text>
<text x="12.4" y="226.8" font-size="16.5" text-anchor="start" font-weight="bold" fill="#1a1a1a" >e</text>
<text x="220.9" y="226.9" font-size="16.5" text-anchor="start" font-weight="bold" fill="#1a1a1a" >f</text>
<text x="12.4" y="415.5" font-size="16.5" text-anchor="start" font-weight="bold" fill="#1a1a1a" >g</text>
<text x="221.3" y="415.3" font-size="16.5" text-anchor="start" font-weight="bold" fill="#1a1a1a" >h</text>
<text x="12.3" y="595.4" font-size="16.5" text-anchor="start" font-weight="bold" fill="#1a1a1a" >i</text>
<text x="221.3" y="595.3" font-size="16.5" text-anchor="start" font-weight="bold" fill="#1a1a1a" >j</text>
</svg></body></html>
